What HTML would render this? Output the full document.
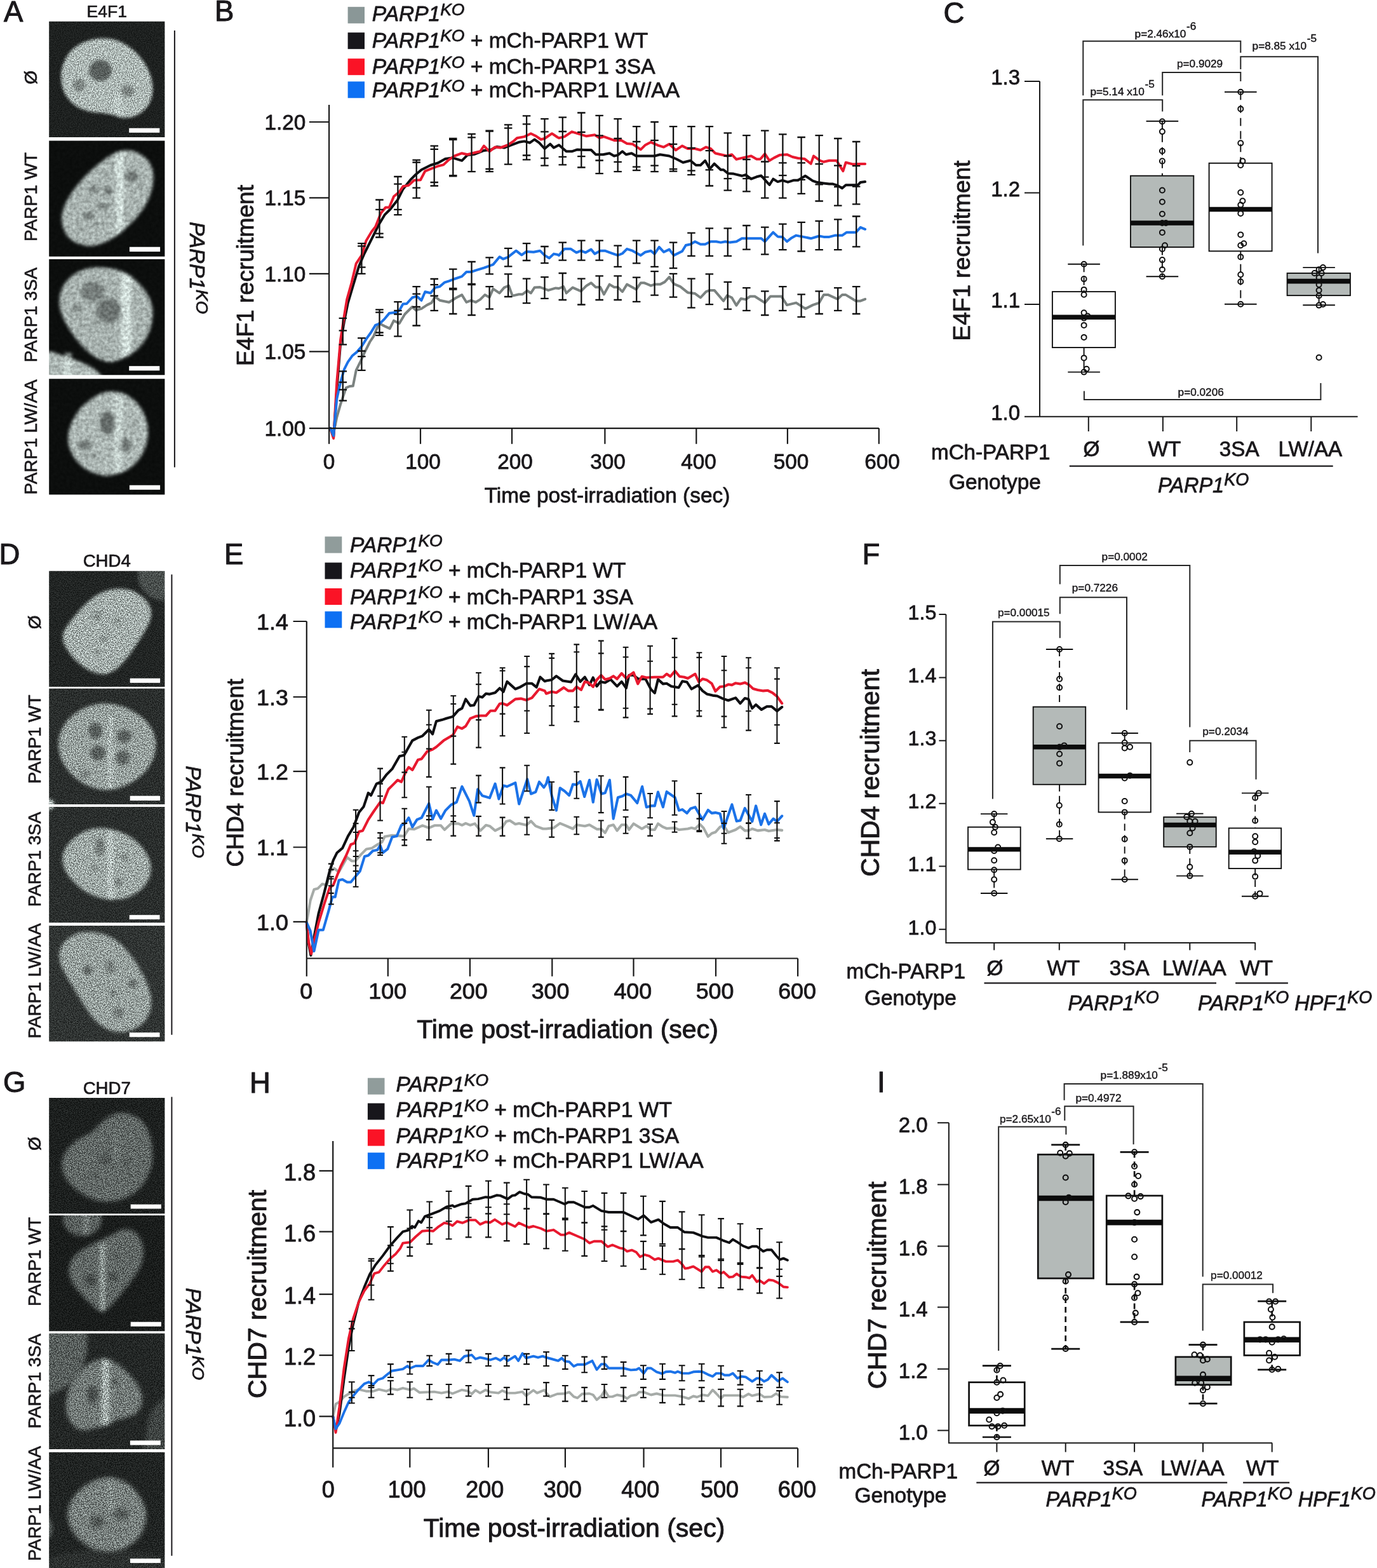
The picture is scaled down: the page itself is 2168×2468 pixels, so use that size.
<!DOCTYPE html>
<html lang="en"><head><meta charset="utf-8"><title>Figure</title>
<style>html,body{margin:0;padding:0;background:#fff}svg{display:block}text{font-family:'Liberation Sans', sans-serif;fill:#1a181b;stroke:#1a181b;stroke-linejoin:round}</style>
</head><body>
<svg width="2168" height="2468" viewBox="0 0 2168 2468">
<defs><clipPath id="c0"><rect x="77.2" y="33.7" width="182.2" height="182.2"/></clipPath>
<clipPath id="n0"><path d="M163.1 60.3C169.7 60.5 177 61.4 183.4 63.4C189.8 65.4 195.7 68.5 201.6 72.5C207.6 76.6 213.8 82 218.9 87.7C223.9 93.5 228.7 100.4 232 107C235.4 113.6 237.8 120.8 239.1 127.2C240.5 133.6 240.8 139.6 240.2 145.5C239.5 151.4 237.8 157.6 235.1 162.7C232.4 167.8 228.3 172.3 223.9 175.9C219.5 179.4 214.1 182.5 208.7 184C203.3 185.5 196.6 185.5 191.5 185C186.4 184.5 183.1 182.1 178.3 180.9C173.6 179.8 169 178.7 163.1 177.9C157.2 177.1 149.6 177.4 142.9 175.9C136.1 174.4 128.5 172.2 122.6 168.8C116.7 165.4 111.5 160.8 107.4 155.6C103.3 150.4 100.1 143.8 98.3 137.4C96.4 130.9 95.9 123.5 96.3 117.1C96.6 110.7 97.9 104.8 100.3 98.9C102.7 92.9 106.2 86.5 110.4 81.6C114.7 76.7 120.1 72.7 125.6 69.5C131.2 66.3 137.6 63.9 143.9 62.4C150.1 60.9 156.6 60.2 163.1 60.3Z"/></clipPath>
<filter id="f0" filterUnits="userSpaceOnUse" x="63.2" y="19.7" width="210.2" height="210.2" color-interpolation-filters="sRGB"><feGaussianBlur in="SourceGraphic" stdDeviation="2.3" result="b"/><feTurbulence type="fractalNoise" baseFrequency="0.6" numOctaves="2" seed="3" result="t"/><feGaussianBlur in="t" stdDeviation="0.6" result="t2"/><feColorMatrix in="t2" type="matrix" values="1.7 0 0 0 -0.35 1.7 0 0 0 -0.35 1.7 0 0 0 -0.35 0 0 0 0 1" result="n"/><feComposite in="b" in2="n" operator="arithmetic" k1="1" k2="0.5" k3="0.03" k4="0" result="m"/><feColorMatrix in="m" type="matrix" values="0.965 0 0 0 0 0 1.015 0 0 0.006 0 0 1 0 0.004 0 0 0 1 0"/></filter>
<clipPath id="c1"><rect x="77.2" y="221.5" width="182.2" height="182.2"/></clipPath>
<clipPath id="n1"><path d="M196.6 236.7C202.5 236.2 208.4 237.3 213.8 239.2C219.2 241.2 225 244.6 229 248.4C233.1 252.1 236 256.6 238.1 261.5C240.2 266.4 241.5 271.8 241.7 277.7C241.8 283.7 240.7 290.4 239.1 297C237.5 303.6 235.4 310.5 232 317.3C228.7 324 223.9 331.1 218.9 337.5C213.8 344 207.6 350.2 201.6 355.8C195.7 361.4 189.8 366.6 183.4 371C177 375.4 169.9 379.4 163.1 382.1C156.4 384.8 149.6 387 142.9 387.2C136.1 387.4 128.5 385.5 122.6 383.1C116.7 380.8 111.3 377.2 107.4 373C103.5 368.8 101 363.2 99.3 357.8C97.6 352.4 96.8 346.5 97.3 340.6C97.8 334.7 99.8 328.4 102.3 322.3C104.9 316.3 108.6 310 112.5 304.1C116.4 298.2 120.7 292.6 125.6 286.9C130.5 281.1 136.1 275 141.9 269.6C147.6 264.2 154 259 160.1 254.4C166.2 249.9 172.3 245.2 178.3 242.3C184.4 239.3 190.7 237.2 196.6 236.7Z"/></clipPath>
<filter id="f1" filterUnits="userSpaceOnUse" x="63.2" y="207.5" width="210.2" height="210.2" color-interpolation-filters="sRGB"><feGaussianBlur in="SourceGraphic" stdDeviation="2.4" result="b"/><feTurbulence type="fractalNoise" baseFrequency="0.2" numOctaves="2" seed="4" result="t"/><feGaussianBlur in="t" stdDeviation="0.6" result="t2"/><feColorMatrix in="t2" type="matrix" values="0.6 0 0 0 0.20 0.6 0 0 0 0.20 0.6 0 0 0 0.20 0 0 0 0 1" result="n"/><feComposite in="b" in2="n" operator="arithmetic" k1="1" k2="0.5" k3="0.03" k4="0" result="m"/><feColorMatrix in="m" type="matrix" values="0.965 0 0 0 0 0 1.015 0 0 0.006 0 0 1 0 0.004 0 0 0 1 0"/></filter>
<clipPath id="c2"><rect x="77.2" y="408" width="182.2" height="182.2"/></clipPath>
<clipPath id="n2"><path d="M163.1 421.2C169 421.7 176.6 422.2 183.4 424.2C190.2 426.2 197.4 429.3 203.7 433.3C209.9 437.4 215.8 443 220.9 448.5C226 454.1 230.9 460.4 234.1 466.8C237.3 473.2 239.3 480.3 240.2 487C241 493.8 240.3 500.7 239.1 507.3C238 513.9 235.9 520.5 233.1 526.6C230.2 532.6 226.3 538.7 221.9 543.8C217.5 548.9 212.3 553.3 206.7 557C201.1 560.7 194 563.9 188.5 566.1C182.9 568.3 178.3 570.1 173.3 570.1C168.2 570.1 163.1 568.3 158.1 566.1C153 563.9 147.9 560.9 142.9 557C137.8 553.1 132.6 548.2 127.7 542.8C122.8 537.4 117.9 531 113.5 524.5C109.1 518.1 104.5 511 101.3 504.3C98.1 497.5 95.4 490.6 94.2 484C93 477.4 93 470.8 94.2 464.7C95.4 458.7 97.9 452.8 101.3 447.5C104.7 442.3 109.4 437.2 114.5 433.3C119.6 429.4 126.1 426.2 131.7 424.2C137.3 422.2 142.7 421.7 147.9 421.2C153.2 420.7 157.2 420.7 163.1 421.2Z"/></clipPath>
<filter id="f2" filterUnits="userSpaceOnUse" x="63.2" y="394" width="210.2" height="210.2" color-interpolation-filters="sRGB"><feGaussianBlur in="SourceGraphic" stdDeviation="2.4" result="b"/><feTurbulence type="fractalNoise" baseFrequency="0.2" numOctaves="2" seed="5" result="t"/><feGaussianBlur in="t" stdDeviation="0.6" result="t2"/><feColorMatrix in="t2" type="matrix" values="0.6 0 0 0 0.20 0.6 0 0 0 0.20 0.6 0 0 0 0.20 0 0 0 0 1" result="n"/><feComposite in="b" in2="n" operator="arithmetic" k1="1" k2="0.5" k3="0.03" k4="0" result="m"/><feColorMatrix in="m" type="matrix" values="0.965 0 0 0 0 0 1.015 0 0 0.006 0 0 1 0 0.004 0 0 0 1 0"/></filter>
<clipPath id="c3"><rect x="77.2" y="596.2" width="182.2" height="182.2"/></clipPath>
<clipPath id="n3"><path d="M178.3 616.3C184.1 616.6 191 618 196.6 620.3C202.2 622.7 207.2 626.2 211.8 630.5C216.3 634.7 220.7 640.1 223.9 645.7C227.1 651.2 229.5 657.8 231 663.9C232.6 670 233.2 676.1 233.1 682.1C232.9 688.2 231.7 694.6 230 700.4C228.3 706.1 226.1 711.4 222.9 716.6C219.7 721.8 215.3 727.6 210.8 731.8C206.2 736 201 739.4 195.6 741.9C190.2 744.5 182.9 745.8 178.3 747C173.8 748.2 172.4 749.2 168.2 749C164 748.9 158.1 747.5 153 746C147.9 744.5 142.5 742.6 137.8 739.9C133.1 737.2 128.5 733.7 124.6 729.8C120.7 725.9 117.2 721.3 114.5 716.6C111.8 711.9 109.6 706.6 108.4 701.4C107.2 696.2 106.9 690.6 107.4 685.2C107.9 679.8 109.4 674.4 111.5 669C113.5 663.6 116.4 657.8 119.6 652.7C122.8 647.7 126.3 643 130.7 638.6C135.1 634.2 140.7 629.8 145.9 626.4C151.1 623 156.7 620 162.1 618.3C167.5 616.6 172.6 615.9 178.3 616.3Z"/></clipPath>
<filter id="f3" filterUnits="userSpaceOnUse" x="63.2" y="582.2" width="210.2" height="210.2" color-interpolation-filters="sRGB"><feGaussianBlur in="SourceGraphic" stdDeviation="2.4" result="b"/><feTurbulence type="fractalNoise" baseFrequency="0.2" numOctaves="2" seed="6" result="t"/><feGaussianBlur in="t" stdDeviation="0.6" result="t2"/><feColorMatrix in="t2" type="matrix" values="0.6 0 0 0 0.20 0.6 0 0 0 0.20 0.6 0 0 0 0.20 0 0 0 0 1" result="n"/><feComposite in="b" in2="n" operator="arithmetic" k1="1" k2="0.5" k3="0.03" k4="0" result="m"/><feColorMatrix in="m" type="matrix" values="0.965 0 0 0 0 0 1.015 0 0 0.006 0 0 1 0 0.004 0 0 0 1 0"/></filter>
<clipPath id="c4"><rect x="77.2" y="898.7" width="182.2" height="182.2"/></clipPath>
<clipPath id="n4"><path d="M188.5 926.4C194.9 926.4 201 927.4 206.7 929.4C212.5 931.4 218.4 935 222.9 938.5C227.5 942.1 231.5 946.3 234.1 950.7C236.6 955.1 238 960 238.1 964.9C238.3 969.8 236.9 975 235.1 980.1C233.2 985.1 230 990 227 995.3C223.9 1000.5 220.4 1006.1 216.8 1011.5C213.3 1016.9 209.6 1022.5 205.7 1027.7C201.8 1032.9 197.8 1038.3 193.5 1042.9C189.3 1047.5 185.1 1052 180.4 1055.1C175.6 1058.1 170.2 1060.5 165.2 1061.1C160.1 1061.8 155.2 1060.8 150 1059.1C144.7 1057.4 139 1054.4 133.7 1051C128.5 1047.6 123.1 1043.4 118.5 1038.8C114 1034.3 109.6 1028.7 106.4 1023.6C103.2 1018.6 100.3 1013.2 99.3 1008.4C98.3 1003.7 98.8 999.8 100.3 995.3C101.8 990.7 105 986 108.4 981.1C111.8 976.2 116.2 970.9 120.6 965.9C125 960.8 129.7 955.4 134.8 950.7C139.8 946 145.4 941.1 151 937.5C156.6 934 162 931.3 168.2 929.4C174.5 927.5 182.1 926.4 188.5 926.4Z"/></clipPath>
<filter id="f4" filterUnits="userSpaceOnUse" x="63.2" y="884.7" width="210.2" height="210.2" color-interpolation-filters="sRGB"><feGaussianBlur in="SourceGraphic" stdDeviation="2.8" result="b"/><feTurbulence type="fractalNoise" baseFrequency="0.65" numOctaves="2" seed="7" result="t"/><feGaussianBlur in="t" stdDeviation="0.6" result="t2"/><feColorMatrix in="t2" type="matrix" values="2.7 0 0 0 -0.85 2.7 0 0 0 -0.85 2.7 0 0 0 -0.85 0 0 0 0 1" result="n"/><feComposite in="b" in2="n" operator="arithmetic" k1="1" k2="0.5" k3="0.03" k4="0" result="m"/><feColorMatrix in="m" type="matrix" values="0.965 0 0 0 0 0 1.015 0 0 0.006 0 0 1 0 0.004 0 0 0 1 0"/></filter>
<clipPath id="c5"><rect x="77.2" y="1083.7" width="182.2" height="182.2"/></clipPath>
<clipPath id="n5"><path d="M163.1 1107.3C169.7 1107.1 176.6 1107.8 183.4 1109.3C190.2 1110.9 197.3 1113.4 203.7 1116.4C210.1 1119.5 216.5 1123.2 221.9 1127.6C227.3 1132 232.4 1137.2 236.1 1142.8C239.8 1148.3 242.7 1154.9 244.2 1161C245.7 1167.1 245.9 1173.3 245.2 1179.3C244.5 1185.2 242.7 1190.9 240.2 1196.5C237.6 1202.1 234.1 1207.8 230 1212.7C226 1217.6 221.1 1222 215.8 1225.9C210.6 1229.8 204.5 1233.3 198.6 1236C192.7 1238.7 186.4 1240.9 180.4 1242.1C174.3 1243.3 168.2 1243.6 162.1 1243.1C156 1242.6 149.6 1241.1 143.9 1239C138.1 1237 132.9 1234.3 127.7 1230.9C122.4 1227.6 117 1223.5 112.5 1218.8C107.9 1214 103.5 1208.3 100.3 1202.6C97.1 1196.8 94.6 1190.4 93.2 1184.3C91.9 1178.2 91.5 1172.2 92.2 1166.1C92.9 1160 94.6 1153.6 97.3 1147.8C100 1142.1 103.9 1136.5 108.4 1131.6C113 1126.7 118.7 1122 124.6 1118.5C130.5 1114.9 137.5 1112.2 143.9 1110.3C150.3 1108.5 156.6 1107.5 163.1 1107.3Z"/></clipPath>
<filter id="f5" filterUnits="userSpaceOnUse" x="63.2" y="1069.7" width="210.2" height="210.2" color-interpolation-filters="sRGB"><feGaussianBlur in="SourceGraphic" stdDeviation="2.8" result="b"/><feTurbulence type="fractalNoise" baseFrequency="0.65" numOctaves="2" seed="8" result="t"/><feGaussianBlur in="t" stdDeviation="0.6" result="t2"/><feColorMatrix in="t2" type="matrix" values="2.7 0 0 0 -0.85 2.7 0 0 0 -0.85 2.7 0 0 0 -0.85 0 0 0 0 1" result="n"/><feComposite in="b" in2="n" operator="arithmetic" k1="1" k2="0.5" k3="0.03" k4="0" result="m"/><feColorMatrix in="m" type="matrix" values="0.965 0 0 0 0 0 1.015 0 0 0.006 0 0 1 0 0.004 0 0 0 1 0"/></filter>
<clipPath id="c6"><rect x="77.2" y="1270" width="182.2" height="182.2"/></clipPath>
<clipPath id="n6"><path d="M156 1303.4C162 1303.4 169.6 1303.9 176.3 1305.5C183.1 1307 190.3 1309.5 196.6 1312.6C202.8 1315.6 208.6 1319.3 213.8 1323.7C219 1328.1 224.3 1333.5 228 1338.9C231.7 1344.3 234.6 1350.4 236.1 1356.1C237.6 1361.9 238 1367.8 237.1 1373.4C236.3 1378.9 234.1 1384.7 231 1389.6C228 1394.5 223.6 1399 218.9 1402.8C214.1 1406.5 208.4 1409.7 202.7 1411.9C196.9 1414.1 190.5 1415.4 184.4 1415.9C178.3 1416.4 172.3 1415.9 166.2 1414.9C160.1 1413.9 153.8 1412.2 147.9 1409.8C142 1407.5 136.1 1404.4 130.7 1400.7C125.3 1397 120.1 1392.4 115.5 1387.6C110.9 1382.7 106.2 1376.9 103.3 1371.3C100.5 1365.8 98.6 1359.7 98.3 1354.1C97.9 1348.5 99.1 1343 101.3 1337.9C103.5 1332.8 107.4 1327.9 111.5 1323.7C115.5 1319.5 120.7 1315.6 125.6 1312.6C130.5 1309.5 135.8 1307 140.8 1305.5C145.9 1303.9 150.1 1303.4 156 1303.4Z"/></clipPath>
<filter id="f6" filterUnits="userSpaceOnUse" x="63.2" y="1256" width="210.2" height="210.2" color-interpolation-filters="sRGB"><feGaussianBlur in="SourceGraphic" stdDeviation="2.8" result="b"/><feTurbulence type="fractalNoise" baseFrequency="0.65" numOctaves="2" seed="9" result="t"/><feGaussianBlur in="t" stdDeviation="0.6" result="t2"/><feColorMatrix in="t2" type="matrix" values="2.7 0 0 0 -0.85 2.7 0 0 0 -0.85 2.7 0 0 0 -0.85 0 0 0 0 1" result="n"/><feComposite in="b" in2="n" operator="arithmetic" k1="1" k2="0.5" k3="0.03" k4="0" result="m"/><feColorMatrix in="m" type="matrix" values="0.965 0 0 0 0 0 1.015 0 0 0.006 0 0 1 0 0.004 0 0 0 1 0"/></filter>
<clipPath id="c7"><rect x="77.2" y="1457" width="182.2" height="182.2"/></clipPath>
<clipPath id="n7"><path d="M142.9 1467.1C149.1 1467.5 156.7 1468.1 163.1 1470.2C169.6 1472.2 175.6 1475.4 181.4 1479.3C187.1 1483.2 192.5 1488.1 197.6 1493.5C202.7 1498.9 207.4 1505.3 211.8 1511.7C216.2 1518.1 220.4 1525.2 223.9 1532C227.5 1538.7 230.7 1545.5 233.1 1552.3C235.4 1559 237.6 1565.9 238.1 1572.5C238.6 1579.1 238 1585.9 236.1 1591.8C234.2 1597.7 230.9 1603.4 227 1608C223.1 1612.6 218 1616.4 212.8 1619.1C207.6 1621.8 201.3 1623.5 195.6 1624.2C189.8 1624.9 183.9 1624.5 178.3 1623.2C172.8 1621.8 167.2 1619.3 162.1 1616.1C157.1 1612.9 152.3 1608.7 147.9 1603.9C143.5 1599.2 139.7 1593.5 135.8 1587.7C131.9 1582 128.3 1575.6 124.6 1569.5C120.9 1563.4 117 1557.2 113.5 1551.2C109.9 1545.3 106.4 1539.8 103.3 1534C100.3 1528.3 96.9 1522.4 95.2 1516.8C93.6 1511.2 92.7 1505.6 93.2 1500.6C93.7 1495.5 95.6 1490.6 98.3 1486.4C101 1482.2 104.9 1478.3 109.4 1475.2C114 1472.2 120.1 1469.5 125.6 1468.1C131.2 1466.8 136.6 1466.8 142.9 1467.1Z"/></clipPath>
<filter id="f7" filterUnits="userSpaceOnUse" x="63.2" y="1443" width="210.2" height="210.2" color-interpolation-filters="sRGB"><feGaussianBlur in="SourceGraphic" stdDeviation="2.8" result="b"/><feTurbulence type="fractalNoise" baseFrequency="0.65" numOctaves="2" seed="10" result="t"/><feGaussianBlur in="t" stdDeviation="0.6" result="t2"/><feColorMatrix in="t2" type="matrix" values="2.7 0 0 0 -0.85 2.7 0 0 0 -0.85 2.7 0 0 0 -0.85 0 0 0 0 1" result="n"/><feComposite in="b" in2="n" operator="arithmetic" k1="1" k2="0.5" k3="0.03" k4="0" result="m"/><feColorMatrix in="m" type="matrix" values="0.965 0 0 0 0 0 1.015 0 0 0.006 0 0 1 0 0.004 0 0 0 1 0"/></filter>
<clipPath id="c8"><rect x="77.2" y="1728.1" width="182.2" height="182.2"/></clipPath>
<clipPath id="n8"><path d="M198.6 1752.3C203.5 1753.2 209.1 1754.7 213.8 1757.4C218.5 1760.1 223.4 1764 227 1768.5C230.5 1773.1 233.1 1779 235.1 1784.7C237.1 1790.5 238.3 1796.9 239.1 1803C240 1809.1 240.5 1815.2 240.2 1821.2C239.8 1827.3 239 1833.4 237.1 1839.5C235.3 1845.6 232.4 1852.1 229 1857.7C225.6 1863.3 221.6 1868.5 216.8 1872.9C212.1 1877.3 206.4 1881.2 200.6 1884.1C194.9 1886.9 188.5 1889 182.4 1890.1C176.3 1891.3 170.2 1891.7 164.2 1891.2C158.1 1890.6 152 1889.3 145.9 1887.1C139.8 1884.9 133.2 1881.5 127.7 1878C122.1 1874.4 116.9 1870.4 112.5 1865.8C108.1 1861.3 103.9 1855.9 101.3 1850.6C98.8 1845.4 97.4 1839.6 97.3 1834.4C97.1 1829.2 98.4 1823.9 100.3 1819.2C102.2 1814.5 105 1810.1 108.4 1806C111.8 1802 116 1798.1 120.6 1794.9C125.1 1791.7 131.2 1789.5 135.8 1786.8C140.3 1784.1 144.2 1781.7 147.9 1778.7C151.7 1775.6 154.4 1771.9 158.1 1768.5C161.8 1765.2 165.8 1761.1 170.2 1758.4C174.6 1755.7 179.7 1753.3 184.4 1752.3C189.1 1751.3 193.7 1751.5 198.6 1752.3Z"/></clipPath>
<filter id="f8" filterUnits="userSpaceOnUse" x="63.2" y="1714.1" width="210.2" height="210.2" color-interpolation-filters="sRGB"><feGaussianBlur in="SourceGraphic" stdDeviation="3.2" result="b"/><feTurbulence type="fractalNoise" baseFrequency="0.65" numOctaves="2" seed="11" result="t"/><feGaussianBlur in="t" stdDeviation="0.6" result="t2"/><feColorMatrix in="t2" type="matrix" values="3.6 0 0 0 -1.30 3.6 0 0 0 -1.30 3.6 0 0 0 -1.30 0 0 0 0 1" result="n"/><feComposite in="b" in2="n" operator="arithmetic" k1="1" k2="0.5" k3="0.03" k4="0" result="m"/><feColorMatrix in="m" type="matrix" values="0.965 0 0 0 0 0 1.015 0 0 0.006 0 0 1 0 0.004 0 0 0 1 0"/></filter>
<clipPath id="c9"><rect x="77.2" y="1913" width="182.2" height="182.2"/></clipPath>
<clipPath id="n9"><path d="M203.7 1935.3C208.1 1936.5 213.5 1939.7 216.8 1943.4C220.2 1947.1 222.4 1952.5 223.9 1957.6C225.5 1962.7 226.3 1968.2 226 1973.8C225.6 1979.4 224.1 1985.5 221.9 1991C219.7 1996.6 216.2 2002 212.8 2007.2C209.4 2012.5 205.4 2017.5 201.6 2022.4C197.9 2027.3 194.2 2032.1 190.5 2036.6C186.8 2041.2 183.1 2045.8 179.4 2049.8C175.6 2053.9 171.4 2058.6 168.2 2061C165 2063.3 163.1 2064.3 160.1 2064C157.1 2063.7 153.7 2061.6 150 2058.9C146.2 2056.2 142 2052 137.8 2047.8C133.6 2043.6 128.7 2038.5 124.6 2033.6C120.6 2028.7 116.2 2023.6 113.5 2018.4C110.8 2013.2 108.8 2007.6 108.4 2002.2C108.1 1996.8 109.4 1990.7 111.5 1986C113.5 1981.2 116.9 1977.3 120.6 1973.8C124.3 1970.3 129.2 1967.6 133.7 1964.7C138.3 1961.8 143.2 1958.9 147.9 1956.6C152.7 1954.2 157.4 1952.7 162.1 1950.5C166.9 1948.3 171.6 1945.8 176.3 1943.4C181 1941 185.9 1937.7 190.5 1936.3C195.1 1935 199.3 1934.1 203.7 1935.3Z"/></clipPath>
<filter id="f9" filterUnits="userSpaceOnUse" x="63.2" y="1899" width="210.2" height="210.2" color-interpolation-filters="sRGB"><feGaussianBlur in="SourceGraphic" stdDeviation="3.2" result="b"/><feTurbulence type="fractalNoise" baseFrequency="0.65" numOctaves="2" seed="12" result="t"/><feGaussianBlur in="t" stdDeviation="0.6" result="t2"/><feColorMatrix in="t2" type="matrix" values="3.6 0 0 0 -1.30 3.6 0 0 0 -1.30 3.6 0 0 0 -1.30 0 0 0 0 1" result="n"/><feComposite in="b" in2="n" operator="arithmetic" k1="1" k2="0.5" k3="0.03" k4="0" result="m"/><feColorMatrix in="m" type="matrix" values="0.965 0 0 0 0 0 1.015 0 0 0.006 0 0 1 0 0.004 0 0 0 1 0"/></filter>
<clipPath id="c10"><rect x="77.2" y="2098.7" width="182.2" height="182.2"/></clipPath>
<clipPath id="n10"><path d="M166.2 2138.5C171.4 2139 176.5 2141.7 181.4 2144.6C186.3 2147.5 191 2151.7 195.6 2155.7C200.1 2159.8 204.9 2164.2 208.7 2168.9C212.6 2173.7 216.3 2178.9 218.9 2184.1C221.4 2189.4 223.6 2195.1 223.9 2200.3C224.3 2205.6 223.1 2211.1 220.9 2215.5C218.7 2219.9 214.8 2224 210.8 2226.7C206.7 2229.4 201.1 2230.4 196.6 2231.8C192 2233.1 187.3 2233.3 183.4 2234.8C179.5 2236.3 177 2239.2 173.3 2240.9C169.6 2242.6 165.3 2243.7 161.1 2244.9C156.9 2246.1 152.5 2247 147.9 2248C143.4 2249 138.3 2251 133.7 2251C129.2 2251 124.5 2250.3 120.6 2248C116.7 2245.6 113.1 2241.4 110.4 2236.8C107.7 2232.3 105.4 2226.2 104.4 2220.6C103.3 2215 103.7 2209 104.4 2203.4C105 2197.8 106.6 2192.2 108.4 2187.2C110.3 2182.1 112.8 2177.4 115.5 2173C118.2 2168.6 121.3 2164.7 124.6 2160.8C128 2156.9 131.6 2152.9 135.8 2149.7C140 2146.5 144.9 2143.4 150 2141.6C155 2139.7 160.9 2138 166.2 2138.5Z"/></clipPath>
<filter id="f10" filterUnits="userSpaceOnUse" x="63.2" y="2084.7" width="210.2" height="210.2" color-interpolation-filters="sRGB"><feGaussianBlur in="SourceGraphic" stdDeviation="3.2" result="b"/><feTurbulence type="fractalNoise" baseFrequency="0.65" numOctaves="2" seed="13" result="t"/><feGaussianBlur in="t" stdDeviation="0.6" result="t2"/><feColorMatrix in="t2" type="matrix" values="3.6 0 0 0 -1.30 3.6 0 0 0 -1.30 3.6 0 0 0 -1.30 0 0 0 0 1" result="n"/><feComposite in="b" in2="n" operator="arithmetic" k1="1" k2="0.5" k3="0.03" k4="0" result="m"/><feColorMatrix in="m" type="matrix" values="0.965 0 0 0 0 0 1.015 0 0 0.006 0 0 1 0 0.004 0 0 0 1 0"/></filter>
<clipPath id="c11"><rect x="77.2" y="2285.7" width="182.2" height="182.2"/></clipPath>
<clipPath id="n11"><path d="M173.3 2325.5C178.2 2326 184.9 2327.2 190.5 2329.6C196.1 2331.9 201.8 2335.5 206.7 2339.7C211.6 2343.9 216.3 2349.5 219.9 2354.9C223.4 2360.3 226.3 2366.4 228 2372.1C229.7 2377.9 230.4 2383.6 230 2389.4C229.7 2395.1 228.2 2401.2 226 2406.6C223.8 2412 220.7 2417.4 216.8 2421.8C213 2426.2 207.7 2429.9 202.7 2432.9C197.6 2436 192.2 2438.5 186.4 2440C180.7 2441.6 174.1 2442.2 168.2 2442.1C162.3 2441.9 156.6 2440.9 151 2439C145.4 2437.2 139.8 2434.3 134.8 2430.9C129.7 2427.5 124.6 2423.5 120.6 2418.8C116.5 2414 112.8 2408.1 110.4 2402.5C108.1 2397 106.6 2391.1 106.4 2385.3C106.2 2379.6 107.4 2373.5 109.4 2368.1C111.5 2362.7 114.8 2357.6 118.5 2352.9C122.3 2348.2 126.8 2343.4 131.7 2339.7C136.6 2336 143 2332.8 147.9 2330.6C152.8 2328.4 156.9 2327.4 161.1 2326.5C165.3 2325.7 168.4 2325 173.3 2325.5Z"/></clipPath>
<filter id="f11" filterUnits="userSpaceOnUse" x="63.2" y="2271.7" width="210.2" height="210.2" color-interpolation-filters="sRGB"><feGaussianBlur in="SourceGraphic" stdDeviation="3.2" result="b"/><feTurbulence type="fractalNoise" baseFrequency="0.65" numOctaves="2" seed="14" result="t"/><feGaussianBlur in="t" stdDeviation="0.6" result="t2"/><feColorMatrix in="t2" type="matrix" values="3.6 0 0 0 -1.30 3.6 0 0 0 -1.30 3.6 0 0 0 -1.30 0 0 0 0 1" result="n"/><feComposite in="b" in2="n" operator="arithmetic" k1="1" k2="0.5" k3="0.03" k4="0" result="m"/><feColorMatrix in="m" type="matrix" values="0.965 0 0 0 0 0 1.015 0 0 0.006 0 0 1 0 0.004 0 0 0 1 0"/></filter></defs>
<g clip-path="url(#c0)"><g filter="url(#f0)"><rect x="63.2" y="19.7" width="210.2" height="210.2" fill="#1b1b1b"/><path d="M163.1 60.3C169.7 60.5 177 61.4 183.4 63.4C189.8 65.4 195.7 68.5 201.6 72.5C207.6 76.6 213.8 82 218.9 87.7C223.9 93.5 228.7 100.4 232 107C235.4 113.6 237.8 120.8 239.1 127.2C240.5 133.6 240.8 139.6 240.2 145.5C239.5 151.4 237.8 157.6 235.1 162.7C232.4 167.8 228.3 172.3 223.9 175.9C219.5 179.4 214.1 182.5 208.7 184C203.3 185.5 196.6 185.5 191.5 185C186.4 184.5 183.1 182.1 178.3 180.9C173.6 179.8 169 178.7 163.1 177.9C157.2 177.1 149.6 177.4 142.9 175.9C136.1 174.4 128.5 172.2 122.6 168.8C116.7 165.4 111.5 160.8 107.4 155.6C103.3 150.4 100.1 143.8 98.3 137.4C96.4 130.9 95.9 123.5 96.3 117.1C96.6 110.7 97.9 104.8 100.3 98.9C102.7 92.9 106.2 86.5 110.4 81.6C114.7 76.7 120.1 72.7 125.6 69.5C131.2 66.3 137.6 63.9 143.9 62.4C150.1 60.9 156.6 60.2 163.1 60.3Z" fill="#b0b0b0"/><g clip-path="url(#n0)"><ellipse cx="158.1" cy="111" rx="17.7" ry="16.7" fill="#585858"/><ellipse cx="124.6" cy="134.3" rx="9.6" ry="10.6" fill="#7d7d7d"/><ellipse cx="200.6" cy="143.4" rx="10.6" ry="9.6" fill="#7d7d7d"/><rect x="179.9" y="145.5" width="13.2" height="40.5" fill="#d7d7d7" opacity="0.4"/></g></g></g><rect x="203.2" y="201.7" width="48.1" height="7.1" fill="#fff"/>
<g clip-path="url(#c1)"><g filter="url(#f1)"><rect x="63.2" y="207.5" width="210.2" height="210.2" fill="#080808"/><path d="M196.6 236.7C202.5 236.2 208.4 237.3 213.8 239.2C219.2 241.2 225 244.6 229 248.4C233.1 252.1 236 256.6 238.1 261.5C240.2 266.4 241.5 271.8 241.7 277.7C241.8 283.7 240.7 290.4 239.1 297C237.5 303.6 235.4 310.5 232 317.3C228.7 324 223.9 331.1 218.9 337.5C213.8 344 207.6 350.2 201.6 355.8C195.7 361.4 189.8 366.6 183.4 371C177 375.4 169.9 379.4 163.1 382.1C156.4 384.8 149.6 387 142.9 387.2C136.1 387.4 128.5 385.5 122.6 383.1C116.7 380.8 111.3 377.2 107.4 373C103.5 368.8 101 363.2 99.3 357.8C97.6 352.4 96.8 346.5 97.3 340.6C97.8 334.7 99.8 328.4 102.3 322.3C104.9 316.3 108.6 310 112.5 304.1C116.4 298.2 120.7 292.6 125.6 286.9C130.5 281.1 136.1 275 141.9 269.6C147.6 264.2 154 259 160.1 254.4C166.2 249.9 172.3 245.2 178.3 242.3C184.4 239.3 190.7 237.2 196.6 236.7Z" fill="#acacac"/><g clip-path="url(#n1)"><ellipse cx="207.7" cy="277.7" rx="10.1" ry="8.6" fill="#6c6c6c"/><ellipse cx="170.2" cy="300" rx="7.6" ry="6.6" fill="#737373"/><ellipse cx="147.9" cy="298" rx="8.1" ry="6.1" fill="#7d7d7d"/><ellipse cx="162.1" cy="324.4" rx="11.7" ry="5.1" fill="#7d7d7d"/><ellipse cx="139.8" cy="339.6" rx="8.6" ry="6.6" fill="#737373"/><ellipse cx="219.9" cy="291.9" rx="4.6" ry="3.5" fill="#8a8a8a"/><ellipse cx="152" cy="352.7" rx="4.6" ry="3.5" fill="#8c8c8c"/><ellipse cx="127.7" cy="358.8" rx="4.6" ry="4.1" fill="#8e8e8e"/><ellipse cx="168.2" cy="273.7" rx="5.1" ry="3.5" fill="#919191"/><ellipse cx="198.6" cy="337.5" rx="5.1" ry="3.5" fill="#919191"/><rect x="182.4" y="236.2" width="12.2" height="136.8" fill="#f0f0f0" opacity="0.6"/></g></g></g><rect x="203.9" y="388.7" width="48.2" height="7.4" fill="#fff"/>
<g clip-path="url(#c2)"><g filter="url(#f2)"><rect x="63.2" y="394" width="210.2" height="210.2" fill="#080808"/><path d="M46.6 560C51.7 548.9 69.4 554.3 77 553.9C84.6 553.5 86.3 555.8 92.2 557.5C98.1 559.2 105.7 561.6 112.5 564.1C119.2 566.5 126.8 569.5 132.7 572.2C138.6 574.9 143.7 577.3 147.9 580.3C152.2 583.2 155.4 586.6 158.1 590C160.8 593.4 163.1 595.4 164.2 600.5C165.2 605.7 183.7 617.4 164.2 620.8C144.6 624.2 66.2 630.9 46.6 620.8C27 610.7 41.5 571.2 46.6 560Z" fill="#afafaf"/><rect x="101.8" y="554.9" width="11.1" height="45.6" fill="#ebebeb" opacity="0.5"/><path d="M163.1 421.2C169 421.7 176.6 422.2 183.4 424.2C190.2 426.2 197.4 429.3 203.7 433.3C209.9 437.4 215.8 443 220.9 448.5C226 454.1 230.9 460.4 234.1 466.8C237.3 473.2 239.3 480.3 240.2 487C241 493.8 240.3 500.7 239.1 507.3C238 513.9 235.9 520.5 233.1 526.6C230.2 532.6 226.3 538.7 221.9 543.8C217.5 548.9 212.3 553.3 206.7 557C201.1 560.7 194 563.9 188.5 566.1C182.9 568.3 178.3 570.1 173.3 570.1C168.2 570.1 163.1 568.3 158.1 566.1C153 563.9 147.9 560.9 142.9 557C137.8 553.1 132.6 548.2 127.7 542.8C122.8 537.4 117.9 531 113.5 524.5C109.1 518.1 104.5 511 101.3 504.3C98.1 497.5 95.4 490.6 94.2 484C93 477.4 93 470.8 94.2 464.7C95.4 458.7 97.9 452.8 101.3 447.5C104.7 442.3 109.4 437.2 114.5 433.3C119.6 429.4 126.1 426.2 131.7 424.2C137.3 422.2 142.7 421.7 147.9 421.2C153.2 420.7 157.2 420.7 163.1 421.2Z" fill="#aaaaaa"/><g clip-path="url(#n2)"><ellipse cx="145.9" cy="458.7" rx="18.7" ry="15.7" fill="#767676"/><ellipse cx="171.2" cy="489.1" rx="19.3" ry="19.8" fill="#6c6c6c"/><ellipse cx="120.6" cy="486" rx="6.9" ry="6.9" fill="#808080"/><ellipse cx="150" cy="509.3" rx="5.1" ry="4.6" fill="#8a8a8a"/><ellipse cx="160.1" cy="549.9" rx="4.1" ry="3.5" fill="#8c8c8c"/><rect x="190.5" y="428.3" width="16.2" height="133.8" fill="#f0f0f0" opacity="0.6"/></g></g></g><rect x="203.2" y="576.2" width="48.1" height="7.1" fill="#fff"/>
<g clip-path="url(#c3)"><g filter="url(#f3)"><rect x="63.2" y="582.2" width="210.2" height="210.2" fill="#080808"/><path d="M178.3 616.3C184.1 616.6 191 618 196.6 620.3C202.2 622.7 207.2 626.2 211.8 630.5C216.3 634.7 220.7 640.1 223.9 645.7C227.1 651.2 229.5 657.8 231 663.9C232.6 670 233.2 676.1 233.1 682.1C232.9 688.2 231.7 694.6 230 700.4C228.3 706.1 226.1 711.4 222.9 716.6C219.7 721.8 215.3 727.6 210.8 731.8C206.2 736 201 739.4 195.6 741.9C190.2 744.5 182.9 745.8 178.3 747C173.8 748.2 172.4 749.2 168.2 749C164 748.9 158.1 747.5 153 746C147.9 744.5 142.5 742.6 137.8 739.9C133.1 737.2 128.5 733.7 124.6 729.8C120.7 725.9 117.2 721.3 114.5 716.6C111.8 711.9 109.6 706.6 108.4 701.4C107.2 696.2 106.9 690.6 107.4 685.2C107.9 679.8 109.4 674.4 111.5 669C113.5 663.6 116.4 657.8 119.6 652.7C122.8 647.7 126.3 643 130.7 638.6C135.1 634.2 140.7 629.8 145.9 626.4C151.1 623 156.7 620 162.1 618.3C167.5 616.6 172.6 615.9 178.3 616.3Z" fill="#afafaf"/><g clip-path="url(#n3)"><ellipse cx="169.2" cy="665.9" rx="12.2" ry="18.2" fill="#646464"/><ellipse cx="133.7" cy="700.4" rx="10.6" ry="7.3" fill="#6c6c6c"/><ellipse cx="196.6" cy="700.4" rx="10.1" ry="11.3" fill="#6e6e6e"/><ellipse cx="147.9" cy="717.6" rx="4.9" ry="4.6" fill="#828282"/><ellipse cx="210.8" cy="666.9" rx="4.3" ry="4.1" fill="#8c8c8c"/><ellipse cx="133.7" cy="716.6" rx="4.1" ry="3" fill="#8c8c8c"/><rect x="180.4" y="619.3" width="12.2" height="127.7" fill="#e8e8e8" opacity="0.5"/></g></g></g><rect x="203.9" y="763.7" width="48.2" height="7.1" fill="#fff"/>
<g clip-path="url(#c4)"><g filter="url(#f4)"><rect x="63.2" y="884.7" width="210.2" height="210.2" fill="#1f1f1f"/><ellipse cx="259.4" cy="905.1" rx="42.6" ry="40.5" fill="#484848"/><path d="M188.5 926.4C194.9 926.4 201 927.4 206.7 929.4C212.5 931.4 218.4 935 222.9 938.5C227.5 942.1 231.5 946.3 234.1 950.7C236.6 955.1 238 960 238.1 964.9C238.3 969.8 236.9 975 235.1 980.1C233.2 985.1 230 990 227 995.3C223.9 1000.5 220.4 1006.1 216.8 1011.5C213.3 1016.9 209.6 1022.5 205.7 1027.7C201.8 1032.9 197.8 1038.3 193.5 1042.9C189.3 1047.5 185.1 1052 180.4 1055.1C175.6 1058.1 170.2 1060.5 165.2 1061.1C160.1 1061.8 155.2 1060.8 150 1059.1C144.7 1057.4 139 1054.4 133.7 1051C128.5 1047.6 123.1 1043.4 118.5 1038.8C114 1034.3 109.6 1028.7 106.4 1023.6C103.2 1018.6 100.3 1013.2 99.3 1008.4C98.3 1003.7 98.8 999.8 100.3 995.3C101.8 990.7 105 986 108.4 981.1C111.8 976.2 116.2 970.9 120.6 965.9C125 960.8 129.7 955.4 134.8 950.7C139.8 946 145.4 941.1 151 937.5C156.6 934 162 931.3 168.2 929.4C174.5 927.5 182.1 926.4 188.5 926.4Z" fill="#a5a5a5"/><g clip-path="url(#n4)"><ellipse cx="153" cy="969.9" rx="7.6" ry="7.1" fill="#878787"/><ellipse cx="183.4" cy="978" rx="5.6" ry="5.6" fill="#8a8a8a"/><ellipse cx="163.1" cy="1005.4" rx="6.6" ry="6.6" fill="#8a8a8a"/><ellipse cx="154" cy="1025.7" rx="6.1" ry="5.1" fill="#8c8c8c"/></g></g></g><rect x="204.7" y="1067.7" width="47.4" height="7.1" fill="#fff"/>
<g clip-path="url(#c5)"><g filter="url(#f5)"><rect x="63.2" y="1069.7" width="210.2" height="210.2" fill="#282828"/><ellipse cx="78" cy="1265.4" rx="7.1" ry="7.1" fill="#d2d2d2"/><path d="M163.1 1107.3C169.7 1107.1 176.6 1107.8 183.4 1109.3C190.2 1110.9 197.3 1113.4 203.7 1116.4C210.1 1119.5 216.5 1123.2 221.9 1127.6C227.3 1132 232.4 1137.2 236.1 1142.8C239.8 1148.3 242.7 1154.9 244.2 1161C245.7 1167.1 245.9 1173.3 245.2 1179.3C244.5 1185.2 242.7 1190.9 240.2 1196.5C237.6 1202.1 234.1 1207.8 230 1212.7C226 1217.6 221.1 1222 215.8 1225.9C210.6 1229.8 204.5 1233.3 198.6 1236C192.7 1238.7 186.4 1240.9 180.4 1242.1C174.3 1243.3 168.2 1243.6 162.1 1243.1C156 1242.6 149.6 1241.1 143.9 1239C138.1 1237 132.9 1234.3 127.7 1230.9C122.4 1227.6 117 1223.5 112.5 1218.8C107.9 1214 103.5 1208.3 100.3 1202.6C97.1 1196.8 94.6 1190.4 93.2 1184.3C91.9 1178.2 91.5 1172.2 92.2 1166.1C92.9 1160 94.6 1153.6 97.3 1147.8C100 1142.1 103.9 1136.5 108.4 1131.6C113 1126.7 118.7 1122 124.6 1118.5C130.5 1114.9 137.5 1112.2 143.9 1110.3C150.3 1108.5 156.6 1107.5 163.1 1107.3Z" fill="#989898"/><g clip-path="url(#n5)"><ellipse cx="150" cy="1149.9" rx="10.6" ry="12.7" fill="#555555"/><ellipse cx="195.6" cy="1159" rx="11.7" ry="10.6" fill="#585858"/><ellipse cx="154" cy="1185.3" rx="11.7" ry="11.7" fill="#555555"/><ellipse cx="193.5" cy="1192.4" rx="10.6" ry="11.7" fill="#5c5c5c"/><ellipse cx="133.7" cy="1218.8" rx="8.1" ry="6.1" fill="#787878"/><rect x="170.7" y="1126.6" width="6.1" height="114.5" fill="#e1e1e1" opacity="0.5"/></g></g></g><rect x="204.7" y="1252.7" width="47.4" height="7.4" fill="#fff"/>
<g clip-path="url(#c6)"><g filter="url(#f6)"><rect x="63.2" y="1256" width="210.2" height="210.2" fill="#282828"/><ellipse cx="78" cy="1270" rx="6.1" ry="4.1" fill="#bebebe"/><path d="M156 1303.4C162 1303.4 169.6 1303.9 176.3 1305.5C183.1 1307 190.3 1309.5 196.6 1312.6C202.8 1315.6 208.6 1319.3 213.8 1323.7C219 1328.1 224.3 1333.5 228 1338.9C231.7 1344.3 234.6 1350.4 236.1 1356.1C237.6 1361.9 238 1367.8 237.1 1373.4C236.3 1378.9 234.1 1384.7 231 1389.6C228 1394.5 223.6 1399 218.9 1402.8C214.1 1406.5 208.4 1409.7 202.7 1411.9C196.9 1414.1 190.5 1415.4 184.4 1415.9C178.3 1416.4 172.3 1415.9 166.2 1414.9C160.1 1413.9 153.8 1412.2 147.9 1409.8C142 1407.5 136.1 1404.4 130.7 1400.7C125.3 1397 120.1 1392.4 115.5 1387.6C110.9 1382.7 106.2 1376.9 103.3 1371.3C100.5 1365.8 98.6 1359.7 98.3 1354.1C97.9 1348.5 99.1 1343 101.3 1337.9C103.5 1332.8 107.4 1327.9 111.5 1323.7C115.5 1319.5 120.7 1315.6 125.6 1312.6C130.5 1309.5 135.8 1307 140.8 1305.5C145.9 1303.9 150.1 1303.4 156 1303.4Z" fill="#a0a0a0"/><g clip-path="url(#n6)"><ellipse cx="157.1" cy="1332.8" rx="7.6" ry="13.7" fill="#707070"/><ellipse cx="186.4" cy="1388.6" rx="6.6" ry="6.1" fill="#737373"/><ellipse cx="195.6" cy="1349" rx="5.6" ry="5.6" fill="#7d7d7d"/><ellipse cx="147.9" cy="1366.3" rx="6.1" ry="5.1" fill="#828282"/><rect x="170" y="1308.5" width="7.6" height="107.4" fill="#e1e1e1" opacity="0.55"/></g></g></g><rect x="203.7" y="1440.2" width="47.8" height="6.9" fill="#fff"/>
<g clip-path="url(#c7)"><g filter="url(#f7)"><rect x="63.2" y="1443" width="210.2" height="210.2" fill="#2e2e2e"/><path d="M142.9 1467.1C149.1 1467.5 156.7 1468.1 163.1 1470.2C169.6 1472.2 175.6 1475.4 181.4 1479.3C187.1 1483.2 192.5 1488.1 197.6 1493.5C202.7 1498.9 207.4 1505.3 211.8 1511.7C216.2 1518.1 220.4 1525.2 223.9 1532C227.5 1538.7 230.7 1545.5 233.1 1552.3C235.4 1559 237.6 1565.9 238.1 1572.5C238.6 1579.1 238 1585.9 236.1 1591.8C234.2 1597.7 230.9 1603.4 227 1608C223.1 1612.6 218 1616.4 212.8 1619.1C207.6 1621.8 201.3 1623.5 195.6 1624.2C189.8 1624.9 183.9 1624.5 178.3 1623.2C172.8 1621.8 167.2 1619.3 162.1 1616.1C157.1 1612.9 152.3 1608.7 147.9 1603.9C143.5 1599.2 139.7 1593.5 135.8 1587.7C131.9 1582 128.3 1575.6 124.6 1569.5C120.9 1563.4 117 1557.2 113.5 1551.2C109.9 1545.3 106.4 1539.8 103.3 1534C100.3 1528.3 96.9 1522.4 95.2 1516.8C93.6 1511.2 92.7 1505.6 93.2 1500.6C93.7 1495.5 95.6 1490.6 98.3 1486.4C101 1482.2 104.9 1478.3 109.4 1475.2C114 1472.2 120.1 1469.5 125.6 1468.1C131.2 1466.8 136.6 1466.8 142.9 1467.1Z" fill="#989898"/><g clip-path="url(#n7)"><ellipse cx="137.8" cy="1526.9" rx="7.6" ry="7.1" fill="#5f5f5f"/><ellipse cx="173.3" cy="1521.9" rx="6.6" ry="10.6" fill="#707070"/><ellipse cx="208.7" cy="1548.2" rx="7.6" ry="7.3" fill="#696969"/><ellipse cx="178.3" cy="1563.4" rx="5.6" ry="5.6" fill="#767676"/><ellipse cx="186.4" cy="1593.8" rx="8.6" ry="8.1" fill="#707070"/></g></g></g><rect x="203.7" y="1625.2" width="47.8" height="7.1" fill="#fff"/>
<g clip-path="url(#c8)"><g filter="url(#f8)"><rect x="63.2" y="1714.1" width="210.2" height="210.2" fill="#1a1a1a"/><path d="M198.6 1752.3C203.5 1753.2 209.1 1754.7 213.8 1757.4C218.5 1760.1 223.4 1764 227 1768.5C230.5 1773.1 233.1 1779 235.1 1784.7C237.1 1790.5 238.3 1796.9 239.1 1803C240 1809.1 240.5 1815.2 240.2 1821.2C239.8 1827.3 239 1833.4 237.1 1839.5C235.3 1845.6 232.4 1852.1 229 1857.7C225.6 1863.3 221.6 1868.5 216.8 1872.9C212.1 1877.3 206.4 1881.2 200.6 1884.1C194.9 1886.9 188.5 1889 182.4 1890.1C176.3 1891.3 170.2 1891.7 164.2 1891.2C158.1 1890.6 152 1889.3 145.9 1887.1C139.8 1884.9 133.2 1881.5 127.7 1878C122.1 1874.4 116.9 1870.4 112.5 1865.8C108.1 1861.3 103.9 1855.9 101.3 1850.6C98.8 1845.4 97.4 1839.6 97.3 1834.4C97.1 1829.2 98.4 1823.9 100.3 1819.2C102.2 1814.5 105 1810.1 108.4 1806C111.8 1802 116 1798.1 120.6 1794.9C125.1 1791.7 131.2 1789.5 135.8 1786.8C140.3 1784.1 144.2 1781.7 147.9 1778.7C151.7 1775.6 154.4 1771.9 158.1 1768.5C161.8 1765.2 165.8 1761.1 170.2 1758.4C174.6 1755.7 179.7 1753.3 184.4 1752.3C189.1 1751.3 193.7 1751.5 198.6 1752.3Z" fill="#616161"/><g clip-path="url(#n8)"><ellipse cx="166.2" cy="1824.3" rx="10.1" ry="9.1" fill="#4e4e4e"/><ellipse cx="198.6" cy="1829.3" rx="7.1" ry="6.1" fill="#555555"/><ellipse cx="147.9" cy="1849.6" rx="7.1" ry="6.1" fill="#555555"/><rect x="180.9" y="1784.7" width="4.1" height="44.6" fill="#aaaaaa" opacity="0.35"/></g></g></g><rect x="205.7" y="1895.7" width="48.1" height="6.8" fill="#fff"/>
<g clip-path="url(#c9)"><g filter="url(#f9)"><rect x="63.2" y="1899" width="210.2" height="210.2" fill="#171717"/><ellipse cx="129.7" cy="1919.1" rx="30.4" ry="26.3" fill="#585858"/><rect x="133.2" y="1907.9" width="5.1" height="35.5" fill="#bebebe" opacity="0.5"/><path d="M203.7 1935.3C208.1 1936.5 213.5 1939.7 216.8 1943.4C220.2 1947.1 222.4 1952.5 223.9 1957.6C225.5 1962.7 226.3 1968.2 226 1973.8C225.6 1979.4 224.1 1985.5 221.9 1991C219.7 1996.6 216.2 2002 212.8 2007.2C209.4 2012.5 205.4 2017.5 201.6 2022.4C197.9 2027.3 194.2 2032.1 190.5 2036.6C186.8 2041.2 183.1 2045.8 179.4 2049.8C175.6 2053.9 171.4 2058.6 168.2 2061C165 2063.3 163.1 2064.3 160.1 2064C157.1 2063.7 153.7 2061.6 150 2058.9C146.2 2056.2 142 2052 137.8 2047.8C133.6 2043.6 128.7 2038.5 124.6 2033.6C120.6 2028.7 116.2 2023.6 113.5 2018.4C110.8 2013.2 108.8 2007.6 108.4 2002.2C108.1 1996.8 109.4 1990.7 111.5 1986C113.5 1981.2 116.9 1977.3 120.6 1973.8C124.3 1970.3 129.2 1967.6 133.7 1964.7C138.3 1961.8 143.2 1958.9 147.9 1956.6C152.7 1954.2 157.4 1952.7 162.1 1950.5C166.9 1948.3 171.6 1945.8 176.3 1943.4C181 1941 185.9 1937.7 190.5 1936.3C195.1 1935 199.3 1934.1 203.7 1935.3Z" fill="#606060"/><g clip-path="url(#n9)"><ellipse cx="142.9" cy="2014.3" rx="8.6" ry="9.1" fill="#3e3e3e"/><ellipse cx="178.3" cy="2009.3" rx="7.6" ry="7.6" fill="#484848"/><ellipse cx="183.4" cy="1978.9" rx="6.1" ry="5.1" fill="#505050"/><rect x="158.2" y="1956.6" width="6.3" height="107.4" fill="#d7d7d7" opacity="0.6"/></g></g></g><rect x="205.7" y="2080.7" width="48.1" height="7.1" fill="#fff"/>
<g clip-path="url(#c10)"><g filter="url(#f10)"><rect x="63.2" y="2084.7" width="210.2" height="210.2" fill="#212121"/><path d="M56.7 2078.7C68.9 2059.8 116.4 2072 129.7 2078.7C143 2085.5 136.1 2109.1 136.8 2119.3C137.5 2129.4 135.6 2133.1 133.7 2139.5C131.9 2146 129.2 2151.9 125.6 2157.8C122.1 2163.7 117.2 2170.3 112.5 2175C107.7 2179.7 106.6 2183.3 97.3 2186.2C88 2189 63.5 2210.1 56.7 2192.2C50 2174.3 44.6 2097.6 56.7 2078.7Z" fill="#585858"/><path d="M279.7 2195.3C276.2 2178.6 265.8 2197.1 259 2201.4C252.2 2205.6 243.8 2212.3 239.1 2220.6C234.5 2228.9 232.7 2237.5 231 2251C229.3 2264.5 220.9 2293.2 229 2301.7C237.1 2310.1 271.2 2319.4 279.7 2301.7C288.1 2283.9 283.1 2212 279.7 2195.3Z" fill="#3e3e3e"/><path d="M166.2 2138.5C171.4 2139 176.5 2141.7 181.4 2144.6C186.3 2147.5 191 2151.7 195.6 2155.7C200.1 2159.8 204.9 2164.2 208.7 2168.9C212.6 2173.7 216.3 2178.9 218.9 2184.1C221.4 2189.4 223.6 2195.1 223.9 2200.3C224.3 2205.6 223.1 2211.1 220.9 2215.5C218.7 2219.9 214.8 2224 210.8 2226.7C206.7 2229.4 201.1 2230.4 196.6 2231.8C192 2233.1 187.3 2233.3 183.4 2234.8C179.5 2236.3 177 2239.2 173.3 2240.9C169.6 2242.6 165.3 2243.7 161.1 2244.9C156.9 2246.1 152.5 2247 147.9 2248C143.4 2249 138.3 2251 133.7 2251C129.2 2251 124.5 2250.3 120.6 2248C116.7 2245.6 113.1 2241.4 110.4 2236.8C107.7 2232.3 105.4 2226.2 104.4 2220.6C103.3 2215 103.7 2209 104.4 2203.4C105 2197.8 106.6 2192.2 108.4 2187.2C110.3 2182.1 112.8 2177.4 115.5 2173C118.2 2168.6 121.3 2164.7 124.6 2160.8C128 2156.9 131.6 2152.9 135.8 2149.7C140 2146.5 144.9 2143.4 150 2141.6C155 2139.7 160.9 2138 166.2 2138.5Z" fill="#727272"/><g clip-path="url(#n10)"><ellipse cx="145.9" cy="2195.3" rx="9.6" ry="13.7" fill="#464646"/><ellipse cx="180.4" cy="2176" rx="6.6" ry="6.3" fill="#585858"/><rect x="160.9" y="2139.5" width="10.6" height="104.4" fill="#e1e1e1" opacity="0.6"/></g></g></g><rect x="204.9" y="2267.4" width="47.9" height="7.1" fill="#fff"/>
<g clip-path="url(#c11)"><g filter="url(#f11)"><rect x="63.2" y="2271.7" width="210.2" height="210.2" fill="#1e1e1e"/><ellipse cx="72.9" cy="2405.6" rx="9.1" ry="16.2" fill="#5f5f5f"/><ellipse cx="168.2" cy="2498.8" rx="141.9" ry="60.8" fill="#2a2a2a"/><path d="M173.3 2325.5C178.2 2326 184.9 2327.2 190.5 2329.6C196.1 2331.9 201.8 2335.5 206.7 2339.7C211.6 2343.9 216.3 2349.5 219.9 2354.9C223.4 2360.3 226.3 2366.4 228 2372.1C229.7 2377.9 230.4 2383.6 230 2389.4C229.7 2395.1 228.2 2401.2 226 2406.6C223.8 2412 220.7 2417.4 216.8 2421.8C213 2426.2 207.7 2429.9 202.7 2432.9C197.6 2436 192.2 2438.5 186.4 2440C180.7 2441.6 174.1 2442.2 168.2 2442.1C162.3 2441.9 156.6 2440.9 151 2439C145.4 2437.2 139.8 2434.3 134.8 2430.9C129.7 2427.5 124.6 2423.5 120.6 2418.8C116.5 2414 112.8 2408.1 110.4 2402.5C108.1 2397 106.6 2391.1 106.4 2385.3C106.2 2379.6 107.4 2373.5 109.4 2368.1C111.5 2362.7 114.8 2357.6 118.5 2352.9C122.3 2348.2 126.8 2343.4 131.7 2339.7C136.6 2336 143 2332.8 147.9 2330.6C152.8 2328.4 156.9 2327.4 161.1 2326.5C165.3 2325.7 168.4 2325 173.3 2325.5Z" fill="#787878"/><g clip-path="url(#n11)"><ellipse cx="153" cy="2395.4" rx="11.7" ry="10.6" fill="#525252"/><ellipse cx="191.5" cy="2383.3" rx="12.7" ry="9.6" fill="#525252"/><rect x="170.7" y="2326.5" width="7.1" height="50.7" fill="#bebebe" opacity="0.3"/></g></g></g><rect x="204.9" y="2453.2" width="47.9" height="6.9" fill="#fff"/>
<text x="6" y="34" font-size="45.5" stroke-width="1.09">A</text>
<text x="338" y="33" font-size="45.5" stroke-width="1.09">B</text>
<text x="1485.5" y="36" font-size="45.5" stroke-width="1.09">C</text>
<text x="-1.5" y="888.2" font-size="45.5" stroke-width="1.09">D</text>
<text x="353" y="887.6" font-size="45.5" stroke-width="1.09">E</text>
<text x="1357.5" y="887.8" font-size="45.5" stroke-width="1.09">F</text>
<text x="5" y="1719.3" font-size="45.5" stroke-width="1.09">G</text>
<text x="393" y="1719.6" font-size="45.5" stroke-width="1.09">H</text>
<text x="1381" y="1719.2" font-size="45.5" stroke-width="1.09">I</text>
<text x="168.2" y="27.2" font-size="26.6" text-anchor="middle" stroke-width="0.64">E4F1</text>
<text x="168.2" y="891.5" font-size="27.6" text-anchor="middle" stroke-width="0.66">CHD4</text>
<text x="168.2" y="1721.6" font-size="27.6" text-anchor="middle" stroke-width="0.66">CHD7</text>
<text x="58" y="121.9" font-size="27.8" text-anchor="middle" transform="rotate(-90 58 121.9)" stroke-width="0.67">Ø</text>
<text x="58" y="309.9" font-size="27.8" text-anchor="middle" transform="rotate(-90 58 309.9)" stroke-width="0.67">PARP1 WT</text>
<text x="58" y="495.7" font-size="27.8" text-anchor="middle" transform="rotate(-90 58 495.7)" stroke-width="0.67">PARP1 3SA</text>
<text x="58" y="687.8" font-size="27.8" text-anchor="middle" transform="rotate(-90 58 687.8)" stroke-width="0.67">PARP1 LW/AA</text>
<text x="63.8" y="979.4" font-size="27.8" text-anchor="middle" transform="rotate(-90 63.8 979.4)" stroke-width="0.67">Ø</text>
<text x="63.8" y="1163.5" font-size="27.8" text-anchor="middle" transform="rotate(-90 63.8 1163.5)" stroke-width="0.67">PARP1 WT</text>
<text x="63.8" y="1352.5" font-size="27.8" text-anchor="middle" transform="rotate(-90 63.8 1352.5)" stroke-width="0.67">PARP1 3SA</text>
<text x="63.8" y="1543.9" font-size="27.8" text-anchor="middle" transform="rotate(-90 63.8 1543.9)" stroke-width="0.67">PARP1 LW/AA</text>
<text x="63.8" y="1800.3" font-size="27.8" text-anchor="middle" transform="rotate(-90 63.8 1800.3)" stroke-width="0.67">Ø</text>
<text x="63.8" y="1985.9" font-size="27.8" text-anchor="middle" transform="rotate(-90 63.8 1985.9)" stroke-width="0.67">PARP1 WT</text>
<text x="63.8" y="2173.8" font-size="27.8" text-anchor="middle" transform="rotate(-90 63.8 2173.8)" stroke-width="0.67">PARP1 3SA</text>
<text x="63.8" y="2366.5" font-size="27.8" text-anchor="middle" transform="rotate(-90 63.8 2366.5)" stroke-width="0.67">PARP1 LW/AA</text>
<line x1="274.9" y1="48" x2="274.9" y2="735.4" stroke="#1a181b" stroke-width="2"/>
<line x1="270.4" y1="904.2" x2="270.4" y2="1628.7" stroke="#1a181b" stroke-width="2"/>
<line x1="270.4" y1="1726.5" x2="270.4" y2="2448.8" stroke="#1a181b" stroke-width="2"/>
<text transform="translate(299 349) rotate(90)" font-style="italic" font-size="33.3" stroke-width="0.8">PARP1<tspan dy="-10" font-size="26.5">KO</tspan></text>
<text transform="translate(292.5 1205.3) rotate(90)" font-style="italic" font-size="33.3" stroke-width="0.8">PARP1<tspan dy="-10" font-size="26.5">KO</tspan></text>
<text transform="translate(292.5 2027) rotate(90)" font-style="italic" font-size="33.3" stroke-width="0.8">PARP1<tspan dy="-10" font-size="26.5">KO</tspan></text>
<polyline points="520.2,674.1 525.1,682.7 530.3,656.7 536.1,636.4 541.9,619 544.8,610.4 550.6,608 555.8,607.5 560.7,582.9 567.9,568.4 573.7,555.4 582.4,538 588.2,529.3 596.9,509 605.6,513.4 613.7,517.1 620,504.7 628.7,509 637.4,494.5 649,483 654.8,488.2 663.5,485.9 672.2,480.1 679.4,476.6 685.2,467 692.4,472.8 706.9,475.7 718.5,468.5 727.2,464.1 734.4,475.7 741.7,472.8 748.9,475.7 756.1,471.4 763.4,464.1 770.6,467.9 776.4,454.6 786.5,461.3 793.8,452.6 801,449.7 806.8,465.6 816.9,463.3 822.7,463.3 830,457.5 835.8,461.3 841.5,452.6 850.2,452 863.3,456.9 874.8,453.4 880,454 887.2,451.1 891.6,461.3 901.7,452.6 914.7,458.4 923.4,449.7 930.7,445.3 937.9,452 945.1,452 950.9,463.3 959.6,447.6 966.9,452 972.7,452 979.9,459.2 987.1,447.6 1001.6,455.5 1008.8,445.3 1014.6,445.3 1024.8,449.7 1030.6,447.6 1039.2,447.6 1046.5,443.9 1053.7,436.1 1061,446.8 1071.1,451.1 1082.7,460.4 1094.3,462.1 1102.9,468.5 1111.6,459.2 1117.4,456.9 1124.7,456.9 1139.1,473.7 1144.9,465 1152.2,468.5 1159.4,480.7 1166.6,469.9 1173.9,471.4 1181.1,466.5 1188.4,466.5 1204.3,476.6 1213,466.5 1230.3,466.5 1239,480.1 1253.5,476.6 1268,485.9 1279.6,480.1 1289.7,476.6 1296.9,464.1 1304.2,464.1 1318.6,470.8 1325.9,464.1 1331.7,464.1 1347.6,473.7 1354.8,473.7 1362.1,470.8" fill="none" stroke="#7b8280" stroke-width="4" stroke-linejoin="round" stroke-linecap="round"/>
<polyline points="520.2,674.1 525.1,688.5 530.3,613.3 536.1,540.9 541.9,506.1 547.7,477.2 556.3,448.2 565,419.3 573.7,399 585.3,375.8 596.9,352.7 605.6,338.2 614.3,329.5 625.8,315 634.5,297.7 646.1,283.2 654.8,274.5 663.5,267.3 678,260 689.5,256.5 701.1,249.9 712.7,248.4 727.2,252.8 735.9,244.1 747.4,242.7 761.9,236.9 773.5,235.4 782.2,231.1 793.8,232.5 805.4,228.2 816.9,223.8 825.6,222.4 834.3,224.7 841.5,219.5 848.8,224.7 857.5,234 866.2,226.7 871.9,232.5 880,228.2 891.6,238.3 900.3,238.3 909,235.4 920.5,236 930.7,236 937.9,243.2 949.5,243.2 959.6,241.2 966.9,245.5 972.7,244.1 979.9,238.3 985.7,243.2 994.4,241.2 1001.6,245.5 1016.1,245.5 1030.6,245.5 1039.2,243.2 1053.7,245.5 1065.3,250.5 1075.4,255.7 1087,252.8 1095.7,260 1102.9,260 1110.2,252.8 1117.4,265.8 1124.7,257.7 1134.8,267.3 1139.1,267.3 1146.4,273.1 1155.1,273.6 1168.1,276.8 1173.9,275.1 1182.6,281.7 1191.3,278.3 1198.5,276.5 1205.7,284.6 1211.5,291 1217.3,281.7 1224.5,286.1 1231.8,283.8 1240.5,286.7 1249.2,283.8 1256.4,283.8 1268,276.8 1279.6,284.6 1285.4,286.7 1296.9,288.4 1305.6,289.6 1311.4,289.6 1318.6,291.9 1325.9,296.2 1331.7,291.3 1343.3,291.3 1350.5,291.3 1354.8,287 1362.1,286.1" fill="none" stroke="#0f0f12" stroke-width="4" stroke-linejoin="round" stroke-linecap="round"/>
<polyline points="520.2,674.1 525.1,690 530.3,601.7 536.1,535.1 541.9,497.4 546.2,471.4 553.5,445.3 560.7,414.9 569.4,401.9 576.6,378.7 585.3,364.3 591.1,357 599.8,335.3 607,326.6 612.8,326.6 620,309.2 628.7,302 634.5,293.3 643.2,291.9 651.9,283.8 662,283.2 669.3,269.3 678,265.8 689.5,261.5 698.2,259.4 706.9,251.3 715.6,245.5 727.2,241.2 735.9,243.2 747.4,240.3 756.1,238.3 761.9,229.6 770.6,238.3 779.3,231.6 788,232.5 799.6,228.2 808.2,222.4 814,217.2 825.6,215.1 835.8,210.2 843,213.7 851.7,219.5 857.5,218 869,210.2 877.7,216 880,217.2 888.7,215.1 900.3,207.3 911.8,210.8 923.4,214.3 936.5,212.3 943.7,217.2 950.9,215.1 966.9,220.9 978.4,220.9 987.1,225.9 995.8,226.7 1008.8,235.4 1016.1,228.2 1024.8,223.8 1036.3,228.8 1045,231.6 1053.7,226.7 1063.9,236.3 1074,229.6 1082.7,234 1094.3,234 1102.9,236.3 1111.6,231.6 1118.9,234 1126.1,241.2 1134.8,243.2 1144.9,245.5 1152.2,243.2 1159.4,250.8 1169.5,248.4 1182.6,245.5 1191.3,250.5 1197,250.5 1204.3,242.1 1211.5,252.8 1218.8,248.4 1227.4,244.1 1239,243.2 1247.7,247 1256.4,249 1266.5,249.9 1276.7,257.7 1281,245.5 1291.1,252.8 1296.9,254.8 1305.6,252.8 1317.2,252.8 1327.3,269.3 1331.7,255.7 1343.3,258.6 1354.8,258 1362.1,258" fill="none" stroke="#e8192f" stroke-width="4" stroke-linejoin="round" stroke-linecap="round"/>
<polyline points="520.2,674.1 525.1,685.6 530.3,627.7 536.1,601.7 541.9,581.4 547.7,569.8 554.9,559.7 562.1,553.9 569.4,545.2 576.6,533.6 583.9,523.5 591.1,511.9 598.3,509 605.6,501.8 612.8,493.1 622.9,491.7 628.7,488.8 634.5,478.6 640.3,478 649,468.5 656.2,466.2 663.5,472.8 669.3,459.2 678,461.3 685.2,452.6 692.4,451.1 699.7,444.7 706.9,442.4 715.6,439 727.2,435.2 734.4,428 741.7,428 750.3,425.1 761.9,421.6 776.4,416.4 786.5,404.2 792.3,407.7 799.6,404.8 812.6,394.7 821.3,401.3 828.5,396.1 840.1,396.7 850.2,394.7 857.5,401.9 864.7,406.2 871.9,399.6 877.7,400.7 880,401.9 888.7,391.8 898.8,391.8 907.5,397.6 914.7,394.7 922,397.6 930.7,392.6 936.5,399.6 945.1,394.7 952.4,394.7 962.5,398.4 972.7,401.9 979.9,399 987.1,391.8 995.8,394.7 1008.8,401.9 1016.1,396.7 1024.8,394.7 1030.6,399.6 1037.8,388.9 1045,396.7 1053.7,392.6 1061,401.9 1074,395.5 1079.8,386 1087,384.5 1094.3,380.2 1102.9,384.5 1110.2,384.5 1118.9,380.2 1127.6,380.2 1134.8,381.6 1142,380.2 1149.3,381.6 1159.4,380.2 1168.1,375.3 1181.1,375.3 1198.5,375.3 1204.3,380.2 1217.3,365.7 1224.5,372.4 1231.8,372.9 1239,380.2 1246.3,374.4 1253.5,370.6 1265.1,372.9 1276.7,375.3 1289.7,371.5 1296.9,372.9 1305.6,372.9 1314.3,370.6 1325.9,370.6 1333.1,365.7 1347.6,365.7 1354.8,357.9 1362.1,360.8" fill="none" stroke="#1b72e8" stroke-width="4" stroke-linejoin="round" stroke-linecap="round"/>
<path d="M539.8 500.9V520.3M533.6 500.9h12.5M533.6 520.3h12.5M569.4 383.1V420.7M563.1 383.1h12.5M563.1 420.7h12.5M597.5 314.5V367.7M591.2 314.5h12.5M591.2 367.7h12.5M626.4 278V329.9M620.2 278h12.5M620.2 329.9h12.5M655.7 251.9V295.6M649.4 251.9h12.5M649.4 295.6h12.5M683.7 229.6V287M677.5 229.6h12.5M677.5 287h12.5M713.3 218V276.1M707 218h12.5M707 276.1h12.5M742.5 210.8V270.2M736.3 210.8h12.5M736.3 270.2h12.5M770.6 205.6V266M764.4 205.6h12.5M764.4 266h12.5M800.1 196.3V258.6M793.9 196.3h12.5M793.9 258.6h12.5M829.1 182.4V244.5M822.8 182.4h12.5M822.8 244.5h12.5M857.5 187.1V249M851.2 187.1h12.5M851.2 249h12.5M885.8 184.7V246.9M879.5 184.7h12.5M879.5 246.9h12.5M915.3 177.5V246.2M909.1 177.5h12.5M909.1 246.2h12.5M943.7 181.8V252.5M937.4 181.8h12.5M937.4 252.5h12.5M972.7 187.1V254.8M966.4 187.1h12.5M966.4 254.8h12.5M1002.2 199.2V262.7M995.9 199.2h12.5M995.9 262.7h12.5M1030.6 192V260.6M1024.3 192h12.5M1024.3 260.6h12.5M1060.1 199.2V266.2M1053.8 199.2h12.5M1053.8 266.2h12.5M1088.5 199.2V268.7M1082.2 199.2h12.5M1082.2 268.7h12.5M1116.8 199.2V267.4M1110.6 199.2h12.5M1110.6 267.4h12.5M1145.8 209.4V281.2M1139.5 209.4h12.5M1139.5 281.2h12.5M1175.3 213.1V281.2M1169.1 213.1h12.5M1169.1 281.2h12.5M1204.3 205.6V278.6M1198 205.6h12.5M1198 278.6h12.5M1232.4 211.4V276.1M1226.1 211.4h12.5M1226.1 276.1h12.5M1261.6 216V282.9M1255.4 216h12.5M1255.4 282.9h12.5M1289.7 213.1V290.4M1283.4 213.1h12.5M1283.4 290.4h12.5M1319.2 218V294.1M1313 218h12.5M1313 294.1h12.5M1348.2 223V293.7M1341.9 223h12.5M1341.9 293.7h12.5M539.8 500.9V542.3M533.6 500.9h12.5M533.6 542.3h12.5M569.4 387.4V430.9M563.1 387.4h12.5M563.1 430.9h12.5M597.5 329.9V373.5M591.2 329.9h12.5M591.2 373.5h12.5M626.4 289.6V338.2M620.2 289.6h12.5M620.2 338.2h12.5M655.7 255.5V311.6M649.4 255.5h12.5M649.4 311.6h12.5M683.7 234.8V292.5M677.5 234.8h12.5M677.5 292.5h12.5M713.3 219.8V277.4M707 219.8h12.5M707 277.4h12.5M742.5 216.4V270.2M736.3 216.4h12.5M736.3 270.2h12.5M770.6 206.5V270.2M764.4 206.5h12.5M764.4 270.2h12.5M800.1 201.7V258.6M793.9 201.7h12.5M793.9 258.6h12.5M829.1 195.3V251.3M822.8 195.3h12.5M822.8 251.3h12.5M857.5 207.3V260.6M851.2 207.3h12.5M851.2 260.6h12.5M885.8 207V259.4M879.5 207h12.5M879.5 259.4h12.5M915.3 208V263.5M909.1 208h12.5M909.1 263.5h12.5M943.7 213.4V273.1M937.4 213.4h12.5M937.4 273.1h12.5M972.7 218V270.2M966.4 218h12.5M966.4 270.2h12.5M1002.2 223V268.1M995.9 223h12.5M995.9 268.1h12.5M1030.6 220.9V270.2M1024.3 220.9h12.5M1024.3 270.2h12.5M1060.1 226.9V269.6M1053.8 226.9h12.5M1053.8 269.6h12.5M1088.5 232.9V275.1M1082.2 232.9h12.5M1082.2 275.1h12.5M1116.8 237.1V292.5M1110.6 237.1h12.5M1110.6 292.5h12.5M1145.8 245.5V299.7M1139.5 245.5h12.5M1139.5 299.7h12.5M1175.3 251V301.4M1169.1 251h12.5M1169.1 301.4h12.5M1204.3 254.5V311.6M1198 254.5h12.5M1198 311.6h12.5M1232.4 256.4V311.6M1226.1 256.4h12.5M1226.1 311.6h12.5M1261.6 256.4V304.9M1255.4 256.4h12.5M1255.4 304.9h12.5M1289.7 258.1V316.5M1283.4 258.1h12.5M1283.4 316.5h12.5M1319.2 260.7V323.7M1313 260.7h12.5M1313 323.7h12.5M1348.2 261.2V321.4M1341.9 261.2h12.5M1341.9 321.4h12.5M539.8 584.3V613.3M533.6 584.3h12.5M533.6 613.3h12.5M569.4 532.2V561.1M563.1 532.2h12.5M563.1 561.1h12.5M597.5 487.3V523.5M591.2 487.3h12.5M591.2 523.5h12.5M626.4 475.1V494.5M620.2 475.1h12.5M620.2 494.5h12.5M655.7 451.1V483M649.4 451.1h12.5M649.4 483h12.5M683.7 439V465.6M677.5 439h12.5M677.5 465.6h12.5M713.3 423.6V454M707 423.6h12.5M707 454h12.5M742.5 412V446.8M736.3 412h12.5M736.3 446.8h12.5M770.6 405.4V431.4M764.4 405.4h12.5M764.4 431.4h12.5M800.1 390.9V419.3M793.9 390.9h12.5M793.9 419.3h12.5M829.1 383.1V410M822.8 383.1h12.5M822.8 410h12.5M857.5 388V414.1M851.2 388h12.5M851.2 414.1h12.5M885.8 381.6V409.7M879.5 381.6h12.5M879.5 409.7h12.5M915.3 378.7V409.7M909.1 378.7h12.5M909.1 409.7h12.5M943.7 378.7V409.7M937.4 378.7h12.5M937.4 409.7h12.5M972.7 386.6V419.8M966.4 386.6h12.5M966.4 419.8h12.5M1002.2 378.7V414.3M995.9 378.7h12.5M995.9 414.3h12.5M1030.6 378.7V419.8M1024.3 378.7h12.5M1024.3 419.8h12.5M1060.1 381.6V422.2M1053.8 381.6h12.5M1053.8 422.2h12.5M1088.5 366.6V402.8M1082.2 366.6h12.5M1082.2 402.8h12.5M1116.8 359.3V402.8M1110.6 359.3h12.5M1110.6 402.8h12.5M1145.8 359.3V402.8M1139.5 359.3h12.5M1139.5 402.8h12.5M1175.3 355V392.6M1169.1 355h12.5M1169.1 392.6h12.5M1204.3 357.6V400.4M1198 357.6h12.5M1198 400.4h12.5M1232.4 352.7V393.2M1226.1 352.7h12.5M1226.1 393.2h12.5M1261.6 349.8V395.5M1255.4 349.8h12.5M1255.4 395.5h12.5M1289.7 347.8V393.2M1283.4 347.8h12.5M1283.4 393.2h12.5M1319.2 345.4V393.2M1313 345.4h12.5M1313 393.2h12.5M1348.2 340.5V388.3M1341.9 340.5h12.5M1341.9 388.3h12.5M539.8 601.7V630.6M533.6 601.7h12.5M533.6 630.6h12.5M569.4 552.5V582.9M563.1 552.5h12.5M563.1 582.9h12.5M597.5 491.7V527.8M591.2 491.7h12.5M591.2 527.8h12.5M626.4 488.8V529.3M620.2 488.8h12.5M620.2 529.3h12.5M655.7 462.7V512.5M649.4 462.7h12.5M649.4 512.5h12.5M683.7 448.2V488.8M677.5 448.2h12.5M677.5 488.8h12.5M713.3 455.5V494M707 455.5h12.5M707 494h12.5M742.5 448.2V496M736.3 448.2h12.5M736.3 496h12.5M770.6 451.1V486.4M764.4 451.1h12.5M764.4 486.4h12.5M800.1 431.4V467M793.9 431.4h12.5M793.9 467h12.5M829.1 438.7V477.2M822.8 438.7h12.5M822.8 477.2h12.5M857.5 436.1V469.9M851.2 436.1h12.5M851.2 469.9h12.5M885.8 430V472M879.5 430h12.5M879.5 472h12.5M915.3 438.7V479.5M909.1 438.7h12.5M909.1 479.5h12.5M943.7 434.3V472M937.4 434.3h12.5M937.4 472h12.5M972.7 434.3V472M966.4 434.3h12.5M966.4 472h12.5M1002.2 436.6V474.9M995.9 436.6h12.5M995.9 474.9h12.5M1030.6 427.1V464.7M1024.3 427.1h12.5M1024.3 464.7h12.5M1060.1 430.9V467.6M1053.8 430.9h12.5M1053.8 467.6h12.5M1088.5 438.7V484.4M1082.2 438.7h12.5M1082.2 484.4h12.5M1116.8 431.4V479.2M1110.6 431.4h12.5M1110.6 479.2h12.5M1145.8 443.9V486.7M1139.5 443.9h12.5M1139.5 486.7h12.5M1175.3 453.1V488.8M1169.1 453.1h12.5M1169.1 488.8h12.5M1204.3 458.4V496M1198 458.4h12.5M1198 496h12.5M1232.4 451.1V488.8M1226.1 451.1h12.5M1226.1 488.8h12.5M1261.6 463.3V498.9M1255.4 463.3h12.5M1255.4 498.9h12.5M1289.7 458.4V494M1283.4 458.4h12.5M1283.4 494h12.5M1319.2 453.1V488.8M1313 453.1h12.5M1313 488.8h12.5M1348.2 451.1V494M1341.9 451.1h12.5M1341.9 494h12.5" fill="none" stroke="#111" stroke-width="2.3"/>
<path d="M518.1 165V698.7M486.9 674.1H1383.8M486.9 192H518.1M486.9 311.3H518.1M486.9 430.9H518.1M486.9 553.3H518.1M662 674.1V698.7M806 674.1V698.7M952.4 674.1V698.7M1096.3 674.1V698.7M1239.9 674.1V698.7M1383.8 674.1V698.7" fill="none" stroke="#1a1a1a" stroke-width="2.2"/>
<text x="481.2" y="203.9" font-size="33.3" text-anchor="end" stroke-width="0.80">1.20</text>
<text x="481.2" y="323.2" font-size="33.3" text-anchor="end" stroke-width="0.80">1.15</text>
<text x="481.2" y="442.8" font-size="33.3" text-anchor="end" stroke-width="0.80">1.10</text>
<text x="481.2" y="565.2" font-size="33.3" text-anchor="end" stroke-width="0.80">1.05</text>
<text x="481.2" y="686" font-size="33.3" text-anchor="end" stroke-width="0.80">1.00</text>
<text x="518" y="738" font-size="33.3" text-anchor="middle" stroke-width="0.80">0</text>
<text x="666" y="738" font-size="33.3" text-anchor="middle" stroke-width="0.80">100</text>
<text x="811" y="738" font-size="33.3" text-anchor="middle" stroke-width="0.80">200</text>
<text x="957" y="738" font-size="33.3" text-anchor="middle" stroke-width="0.80">300</text>
<text x="1100" y="738" font-size="33.3" text-anchor="middle" stroke-width="0.80">400</text>
<text x="1245.6" y="738" font-size="33.3" text-anchor="middle" stroke-width="0.80">500</text>
<text x="1389" y="738" font-size="33.3" text-anchor="middle" stroke-width="0.80">600</text>
<text x="399" y="433.5" font-size="37.2" text-anchor="middle" transform="rotate(-90 399 433.5)" stroke-width="0.89">E4F1 recruitment</text>
<text x="956" y="790.5" font-size="33.4" text-anchor="middle" stroke-width="0.80">Time post-irradiation (sec)</text>
<rect x="547.6" y="10.8" width="26.4" height="26" fill="#8a9797"/>
<text x="585.8" y="33.4" font-size="33.5" stroke-width="0.8"><tspan font-style="italic">PARP1</tspan><tspan font-style="italic" dy="-9.5" font-size="26.5">KO</tspan></text>
<rect x="547.6" y="51.2" width="26.4" height="26" fill="#17161b"/>
<text x="585.8" y="74.7" font-size="33.5" stroke-width="0.8"><tspan font-style="italic">PARP1</tspan><tspan font-style="italic" dy="-9.5" font-size="26.5">KO</tspan><tspan dy="9.5" xml:space="preserve"> + mCh-PARP1 WT</tspan></text>
<rect x="547.6" y="92.2" width="26.4" height="26" fill="#fa1326"/>
<text x="585.8" y="116.4" font-size="33.5" stroke-width="0.8"><tspan font-style="italic">PARP1</tspan><tspan font-style="italic" dy="-9.5" font-size="26.5">KO</tspan><tspan dy="9.5" xml:space="preserve"> + mCh-PARP1 3SA</tspan></text>
<rect x="547.6" y="128.3" width="26.4" height="26" fill="#0d70f3"/>
<text x="585.8" y="153.3" font-size="33.5" stroke-width="0.8"><tspan font-style="italic">PARP1</tspan><tspan font-style="italic" dy="-9.5" font-size="26.5">KO</tspan><tspan dy="9.5" xml:space="preserve"> + mCh-PARP1 LW/AA</tspan></text>
<polyline points="482.8,1452.2 488.6,1417.5 494.4,1400.1 500.2,1398.6 507.4,1391.4 514.6,1392.9 520.4,1371.1 526.2,1366.8 533.5,1372.6 539.2,1362.5 546.5,1349.4 553.7,1355.2 559.5,1355.2 568.2,1345.1 576.9,1336.4 585.6,1334.9 594.3,1329.2 601.5,1325.4 605.8,1316.7 617.4,1314.7 629,1315.6 636.2,1316.1 643.5,1304.5 652.2,1305.1 665.2,1299.3 675.3,1303.1 684,1299.3 694.1,1299.3 699.9,1306 710.1,1296.4 721.7,1296.4 727.4,1298.8 733.2,1295.9 740.5,1298.8 747.7,1296.4 756.4,1307.4 765.1,1298.8 770.9,1300.2 779.6,1307.4 791.1,1301.7 796.9,1293 802.7,1291.5 811.4,1297.3 817.2,1295.9 828.8,1298.8 836,1292.4 843.3,1300.2 854.8,1304.5 860,1304.5 871.6,1303.1 881.7,1295.9 889,1298.8 902,1304.5 907.8,1298.2 920.8,1300.2 928,1298.2 939.6,1305.1 946.9,1305.1 952.7,1310.9 958.4,1300.2 965.7,1298.2 971.5,1307.4 978.7,1298.2 985.9,1298.2 990.3,1306 997.5,1296.4 1010.6,1304.5 1017.8,1300.2 1025,1306 1030.8,1306 1036,1296.4 1043.9,1301.7 1049.6,1304 1062.7,1303.1 1069,1306 1082.9,1304.5 1088.7,1303.1 1094.5,1304.5 1101.8,1297.3 1107.6,1303.1 1114.8,1316.7 1120.6,1311.8 1126.4,1309.8 1133.6,1301.7 1139.4,1299.3 1146.6,1310.3 1158.2,1306 1165.5,1301.1 1172.7,1307.4 1178.5,1307.4 1184.3,1304.5 1193,1307.4 1204,1306 1210.3,1308 1223.4,1306 1231.2,1306.9" fill="none" stroke="#a6aba8" stroke-width="4.1" stroke-linejoin="round" stroke-linecap="round"/>
<polyline points="482.8,1452.2 485.7,1484.1 489.4,1503.7 494.4,1475.4 501.6,1437.7 510.3,1405.9 519,1371.1 524.8,1353.8 530.6,1342.2 539.2,1334.9 547.9,1316.1 556.6,1301.7 565.3,1278.5 572.5,1269.8 579.8,1248.1 584.1,1251.9 592.8,1233.6 600,1230.7 608.7,1219.1 617.4,1210.4 629,1190.2 636.2,1188.7 643.5,1175.7 649.3,1165.6 658,1161.2 665.2,1158.3 675.3,1148.2 681.1,1155.4 686.9,1135.2 695.6,1133.1 702.8,1130.8 713,1127.9 721.7,1117.8 727.4,1114.9 733.2,1100.4 740.5,1110.6 746.3,1110 753.5,1096.1 759.3,1097.5 765.1,1091.7 770.9,1092.6 779.6,1090.3 786.8,1083.1 792.6,1088.8 798.4,1072.9 811.4,1084.5 818.6,1081.6 828.8,1075.8 837.5,1075.8 844.7,1081.6 850.5,1065.7 857.7,1072.3 860,1071.5 868.7,1070 875.9,1064.2 886.1,1071.5 899.1,1073.5 906.3,1061.3 913.6,1072.9 920.8,1065.7 928,1078.1 933.8,1066.5 939.6,1080.2 945.4,1072.9 952.7,1074.4 961.3,1069.4 971.5,1080.2 978.7,1072.9 985.9,1083.1 990.3,1062.8 997.5,1062.8 1004.8,1068.6 1016.3,1068.6 1025,1085.1 1030.8,1090.9 1036,1069.4 1043.9,1076.4 1049.6,1075.8 1056.9,1080.2 1068.5,1082.2 1074.3,1072.3 1081.5,1073.5 1088.7,1084.5 1098.9,1078.7 1106.1,1087.4 1113.3,1092.6 1122,1094.6 1129.3,1095.5 1138,1099.6 1146.6,1102.5 1158.2,1098.4 1165.5,1107.1 1172.7,1099 1178.5,1100.4 1184.3,1114.9 1190.1,1109.1 1198.8,1116.9 1207.4,1112 1214.7,1112 1223.4,1119.2 1231.2,1112.9" fill="none" stroke="#0f0f12" stroke-width="4.1" stroke-linejoin="round" stroke-linecap="round"/>
<polyline points="482.8,1452.2 485.7,1481.2 490,1501.4 494.4,1481.2 501.6,1452.2 510.3,1423.3 519,1397.2 524.8,1392.9 530.6,1378.4 536.3,1363.9 545,1346.5 552.3,1329.2 558.1,1327.1 565.3,1308.9 571.1,1307.4 579.8,1290.1 588.5,1277 598.6,1262.6 602.9,1264 611.6,1242.3 620.3,1233.6 626.1,1227.8 631.9,1230.7 639.1,1214.2 643.5,1207.6 649.3,1211.9 658,1196 663.7,1194.5 672.4,1182.9 681.1,1179.5 686.9,1175.7 698.5,1165.6 713,1156.9 720.2,1143.9 727.4,1146.8 733.2,1143 740.5,1130.8 749.2,1127.4 756.4,1126.5 765.1,1126.5 772.3,1118.7 779.6,1118.7 786.8,1107.7 791.1,1107.1 798.4,1110 811.4,1100.4 820.1,1099.6 828.8,1101.9 837.5,1098.4 849,1084.5 857.7,1087.4 860,1091.7 868.7,1088.8 875.9,1090.3 887.5,1082.2 894.7,1087.4 902,1087.4 907.8,1081 915,1085.9 920.8,1072.9 926.6,1074.4 933.8,1081 939.6,1070 946.3,1062.8 952.7,1069.4 959.9,1067.7 965.7,1064.2 971.5,1068.6 978.7,1059.9 985.9,1067.7 990.3,1063.7 997.5,1058.4 1004.2,1076.4 1010.6,1064.8 1017.8,1066.5 1030.8,1065.7 1043.9,1065.7 1049.6,1060.8 1055.4,1064.8 1062.7,1056.1 1069.9,1064.8 1077.2,1065.7 1082.9,1067.7 1094.5,1060.8 1100.3,1073.5 1106.1,1068.6 1113.3,1070.6 1120.6,1075.8 1126.4,1088 1133.6,1081 1140.9,1080.2 1146.6,1077.3 1152.4,1078.1 1158.2,1075.2 1165.5,1076.4 1172.7,1074.4 1178.5,1077.3 1185.7,1083.9 1193,1085.9 1201.7,1087.4 1208.9,1086.8 1216.1,1090.3 1223.4,1096.1 1231.2,1107.1" fill="none" stroke="#e8192f" stroke-width="4.1" stroke-linejoin="round" stroke-linecap="round"/>
<polyline points="482.8,1452.2 488.6,1465.2 494.4,1497.1 501.6,1463.8 508.8,1463.8 517.5,1433.4 523.3,1411.7 527.7,1411.7 533.5,1385.6 539.2,1384.2 546.5,1388.5 552.3,1388.5 559.5,1379.8 566.8,1371.1 574,1348 579.8,1346.5 587,1339.3 594.3,1337.8 598.6,1330.6 602.9,1342.2 610.2,1336.4 617.4,1317.6 624.7,1316.1 631.9,1298.8 637.7,1295.9 643.5,1287.2 649.3,1301.7 656.5,1290.1 663.7,1287.2 675.3,1264.6 681.1,1289.5 686.9,1275.6 694.1,1288.6 701.4,1275.6 710.1,1266.9 718.8,1262.6 727.4,1238 739,1261.1 746.3,1283.7 752.1,1242.3 759.3,1252.4 770.9,1255.9 779.6,1233.6 785.4,1257.6 792.6,1236.5 798.4,1238 811.4,1232.2 817.2,1265.5 830.2,1226.4 836,1249.5 843.3,1246.6 849,1230.7 856.3,1239.4 860,1233.6 862.9,1223.5 868.7,1252.4 875.9,1275.6 881.7,1240.3 889,1245.2 896.2,1251.9 902,1234.5 907.8,1235.1 913.6,1229.8 920.2,1253.9 928,1227.8 933.8,1262.6 939.6,1227 946.9,1249.5 952.7,1248.1 959.9,1227.8 965.7,1288.6 972.9,1255.3 980.2,1253 985.9,1249.5 993.2,1251.9 1003.3,1264 1011.1,1238 1017.8,1270.4 1025,1268.4 1030.8,1268.4 1036,1246.6 1043.9,1270.4 1049.6,1246.1 1062.7,1255.3 1069,1275.6 1074.3,1274.1 1081.5,1279.9 1087.3,1272.7 1094.5,1270.4 1106.1,1290.1 1114.8,1275 1120.6,1279.9 1126.4,1279.1 1133.6,1280.8 1139.4,1304 1152.4,1266.3 1159.7,1292.4 1165.5,1291.5 1172.7,1272.1 1184.3,1293 1190.1,1268.4 1198.2,1298.2 1204,1280.8 1210.3,1297.3 1217.6,1288.6 1223.4,1293 1231.2,1284.3" fill="none" stroke="#1b72e8" stroke-width="4.1" stroke-linejoin="round" stroke-linecap="round"/>
<path d="M521.3 1359.6V1368.8M516.9 1359.6h8.8M516.9 1368.8h8.8M560.1 1274.7V1310M555.7 1274.7h8.8M555.7 1310h8.8M598.6 1209.6V1253M594.2 1209.6h8.8M594.2 1253h8.8M636.8 1159.8V1215.6M632.4 1159.8h8.8M632.4 1215.6h8.8M675.3 1117.8V1178.6M670.9 1117.8h8.8M670.9 1178.6h8.8M713.8 1095.2V1158.6M709.4 1095.2h8.8M709.4 1158.6h8.8M753.5 1059V1133.1M749.1 1059h8.8M749.1 1133.1h8.8M791.1 1051.2V1123.6M786.7 1051.2h8.8M786.7 1123.6h8.8M829.6 1033V1118.7M825.2 1033h8.8M825.2 1118.7h8.8M868.7 1028.9V1111.1M864.3 1028.9h8.8M864.3 1111.1h8.8M907.8 1014.4V1112.9M903.4 1014.4h8.8M903.4 1112.9h8.8M946.3 1008.6V1116.9M941.9 1008.6h8.8M941.9 1116.9h8.8M985.1 1018.8V1114.8M980.7 1018.8h8.8M980.7 1114.8h8.8M1023.6 1016.7V1115.6M1019.2 1016.7h8.8M1019.2 1115.6h8.8M1062.1 1004.9V1108.8M1057.7 1004.9h8.8M1057.7 1108.8h8.8M1100.9 1027.2V1118.8M1096.5 1027.2h8.8M1096.5 1118.8h8.8M1140 1033V1127.6M1135.6 1033h8.8M1135.6 1127.6h8.8M1178.5 1035.3V1119.2M1174.1 1035.3h8.8M1174.1 1119.2h8.8M1223.4 1051.2V1141M1219 1051.2h8.8M1219 1141h8.8M521.3 1383.3V1394.3M516.9 1383.3h8.8M516.9 1394.3h8.8M560.1 1296.1V1348M555.7 1296.1h8.8M555.7 1348h8.8M598.6 1233.6V1291.5M594.2 1233.6h8.8M594.2 1291.5h8.8M636.8 1183.7V1255.3M632.4 1183.7h8.8M632.4 1255.3h8.8M675.3 1140.7V1222.9M670.9 1140.7h8.8M670.9 1222.9h8.8M713.8 1108V1202.6M709.4 1108h8.8M709.4 1202.6h8.8M753.5 1077.1V1176.6M749.1 1077.1h8.8M749.1 1176.6h8.8M791.1 1055.8V1158.3M786.7 1055.8h8.8M786.7 1158.3h8.8M829.6 1049.1V1154M825.2 1049.1h8.8M825.2 1154h8.8M868.7 1035.9V1141.8M864.3 1035.9h8.8M864.3 1141.8h8.8M907.8 1026.3V1135.7M903.4 1026.3h8.8M903.4 1135.7h8.8M946.3 1028.4V1117.8M941.9 1028.4h8.8M941.9 1117.8h8.8M985.1 1034.3V1129.4M980.7 1034.3h8.8M980.7 1129.4h8.8M1023.6 1040.8V1123.9M1019.2 1040.8h8.8M1019.2 1123.9h8.8M1062.1 1034.8V1127.4M1057.7 1034.8h8.8M1057.7 1127.4h8.8M1100.9 1034.9V1127.4M1096.5 1034.9h8.8M1096.5 1127.4h8.8M1140 1055.2V1145.3M1135.6 1055.2h8.8M1135.6 1145.3h8.8M1178.5 1051.2V1149.6M1174.1 1051.2h8.8M1174.1 1149.6h8.8M1223.4 1068.6V1169.9M1219 1068.6h8.8M1219 1169.9h8.8M521.3 1394.3V1423.3M516.9 1394.3h8.8M516.9 1423.3h8.8M560.1 1362.5V1395.8M555.7 1362.5h8.8M555.7 1395.8h8.8M598.6 1319V1346M594.2 1319h8.8M594.2 1346h8.8M636.8 1272.7V1330.6M632.4 1272.7h8.8M632.4 1330.6h8.8M675.3 1238.5V1290.1M670.9 1238.5h8.8M670.9 1290.1h8.8M713.8 1240.3V1293M709.4 1240.3h8.8M709.4 1293h8.8M753.5 1220.6V1263.4M749.1 1220.6h8.8M749.1 1263.4h8.8M791.1 1208.4V1265.5M786.7 1208.4h8.8M786.7 1265.5h8.8M829.6 1204.7V1245.2M825.2 1204.7h8.8M825.2 1245.2h8.8M868.7 1230.7V1275M864.3 1230.7h8.8M864.3 1275h8.8M907.8 1214.8V1256.8M903.4 1214.8h8.8M903.4 1256.8h8.8M946.3 1221.2V1279.1M941.9 1221.2h8.8M941.9 1279.1h8.8M985.1 1222.9V1275M980.7 1222.9h8.8M980.7 1275h8.8M1023.6 1249V1287.2M1019.2 1249h8.8M1019.2 1287.2h8.8M1062.1 1229.3V1282.8M1057.7 1229.3h8.8M1057.7 1282.8h8.8M1100.9 1249V1307.4M1096.5 1249h8.8M1096.5 1307.4h8.8M1140 1277V1327.7M1135.6 1277h8.8M1135.6 1327.7h8.8M1178.5 1251V1295.9M1174.1 1251h8.8M1174.1 1295.9h8.8M1223.4 1261.1V1319M1219 1261.1h8.8M1219 1319h8.8M521.3 1379.8V1405.9M516.9 1379.8h8.8M516.9 1405.9h8.8M560.1 1339.3V1371.1M555.7 1339.3h8.8M555.7 1371.1h8.8M598.6 1310.9V1342.2M594.2 1310.9h8.8M594.2 1342.2h8.8M636.8 1295.9V1321.9M632.4 1295.9h8.8M632.4 1321.9h8.8M675.3 1284.3V1321.9M670.9 1284.3h8.8M670.9 1321.9h8.8M713.8 1284.3V1315.6M709.4 1284.3h8.8M709.4 1315.6h8.8M753.5 1284.9V1315.6M749.1 1284.9h8.8M749.1 1315.6h8.8M791.1 1286.6V1315.6M786.7 1286.6h8.8M786.7 1315.6h8.8M829.6 1286.6V1313.8M825.2 1286.6h8.8M825.2 1313.8h8.8M868.7 1290.7V1317.6M864.3 1290.7h8.8M864.3 1317.6h8.8M907.8 1285.7V1313.2M903.4 1285.7h8.8M903.4 1313.2h8.8M946.3 1291.5V1317.6M941.9 1291.5h8.8M941.9 1317.6h8.8M985.1 1285.7V1311.8M980.7 1285.7h8.8M980.7 1311.8h8.8M1023.6 1297.3V1315.6M1019.2 1297.3h8.8M1019.2 1315.6h8.8M1062.1 1293.5V1309.8M1057.7 1293.5h8.8M1057.7 1309.8h8.8M1100.9 1288.6V1308.9M1096.5 1288.6h8.8M1096.5 1308.9h8.8M1140 1295.9V1311.8M1135.6 1295.9h8.8M1135.6 1311.8h8.8M1178.5 1295.3V1319.6M1174.1 1295.3h8.8M1174.1 1319.6h8.8M1223.4 1295.3V1323.4M1219 1295.3h8.8M1219 1323.4h8.8" fill="none" stroke="#111" stroke-width="2.1"/>
<path d="M482.8 978V1536.8M482.8 1508.5H1256.1M461.6 978H482.8M461.6 1097H482.8M461.6 1214.2H482.8M461.6 1333.5H482.8M461.6 1450.8H482.8M610.8 1508.5V1536.8M739.9 1508.5V1536.8M869.3 1508.5V1536.8M997.5 1508.5V1536.8M1127 1508.5V1536.8M1256.1 1508.5V1536.8" fill="none" stroke="#1a1a1a" stroke-width="2.2"/>
<text x="453.8" y="990.8" font-size="35.8" text-anchor="end" stroke-width="0.86">1.4</text>
<text x="453.8" y="1109.8" font-size="35.8" text-anchor="end" stroke-width="0.86">1.3</text>
<text x="453.8" y="1227" font-size="35.8" text-anchor="end" stroke-width="0.86">1.2</text>
<text x="453.8" y="1346.3" font-size="35.8" text-anchor="end" stroke-width="0.86">1.1</text>
<text x="453.8" y="1463.6" font-size="35.8" text-anchor="end" stroke-width="0.86">1.0</text>
<text x="482.2" y="1572.4" font-size="35.8" text-anchor="middle" stroke-width="0.86">0</text>
<text x="610.2" y="1572.4" font-size="35.8" text-anchor="middle" stroke-width="0.86">100</text>
<text x="737.8" y="1572.4" font-size="35.8" text-anchor="middle" stroke-width="0.86">200</text>
<text x="866.5" y="1572.4" font-size="35.8" text-anchor="middle" stroke-width="0.86">300</text>
<text x="996.3" y="1572.4" font-size="35.8" text-anchor="middle" stroke-width="0.86">400</text>
<text x="1125.5" y="1572.4" font-size="35.8" text-anchor="middle" stroke-width="0.86">500</text>
<text x="1255" y="1572.4" font-size="35.8" text-anchor="middle" stroke-width="0.86">600</text>
<text x="382.5" y="1216.5" font-size="37" text-anchor="middle" transform="rotate(-90 382.5 1216.5)" stroke-width="0.89">CHD4 recruitment</text>
<text x="893.5" y="1633.5" font-size="41" text-anchor="middle" stroke-width="0.98">Time post-irradiation (sec)</text>
<rect x="511.5" y="844.5" width="26.8" height="26" fill="#909c9b"/>
<text x="551" y="869" font-size="33.5" stroke-width="0.8"><tspan font-style="italic">PARP1</tspan><tspan font-style="italic" dy="-9.5" font-size="26.5">KO</tspan></text>
<rect x="511.5" y="885.5" width="26.8" height="26" fill="#17161b"/>
<text x="551" y="908.8" font-size="33.5" stroke-width="0.8"><tspan font-style="italic">PARP1</tspan><tspan font-style="italic" dy="-9.5" font-size="26.5">KO</tspan><tspan dy="9.5" xml:space="preserve"> + mCh-PARP1 WT</tspan></text>
<rect x="511.5" y="926" width="26.8" height="26" fill="#fa1326"/>
<text x="551" y="950.5" font-size="33.5" stroke-width="0.8"><tspan font-style="italic">PARP1</tspan><tspan font-style="italic" dy="-9.5" font-size="26.5">KO</tspan><tspan dy="9.5" xml:space="preserve"> + mCh-PARP1 3SA</tspan></text>
<rect x="511.5" y="962.3" width="26.8" height="26" fill="#0d70f3"/>
<text x="551" y="989.7" font-size="33.5" stroke-width="0.8"><tspan font-style="italic">PARP1</tspan><tspan font-style="italic" dy="-9.5" font-size="26.5">KO</tspan><tspan dy="9.5" xml:space="preserve"> + mCh-PARP1 LW/AA</tspan></text>
<polyline points="524.2,2229.4 528.6,2210 535.8,2205.6 541.6,2198.4 548.8,2194 556.1,2189.7 564.8,2186.8 576.3,2189.7 587.9,2189.7 596.6,2186.8 608.2,2189.7 616.9,2185.9 625.6,2187.7 634.3,2184.8 645.8,2187.7 651.6,2185.4 660.3,2191.7 674.8,2191.1 683.5,2190.6 695.1,2192.6 705.2,2190.6 712.4,2193.5 726.9,2187.7 737,2189.7 742.8,2194 748.6,2188.2 755.9,2192.6 764.5,2187.7 771.8,2191.1 784.8,2192.6 790.6,2188.8 799.3,2192.6 810.9,2192.6 822.5,2190.6 828.2,2196.9 839.8,2188.2 845.6,2192.6 857.2,2187.7 860,2192.6 865.8,2198.4 877.4,2194 889,2193.5 896.2,2191.1 903.4,2198.4 909.2,2200.4 916.5,2194 928,2193.5 933.8,2195.5 939.6,2203.3 946.9,2196.9 952.1,2188.2 958.4,2198.4 964.2,2198.4 971.5,2195.5 981.6,2197.5 987.4,2201.3 993.2,2196.9 1001.9,2195.5 1006.2,2191.1 1013.5,2191.1 1025,2195.5 1033.7,2193.5 1045.3,2196.4 1062.7,2196.4 1074.3,2198.4 1084.4,2201.3 1091.6,2197.5 1097.4,2199 1106.1,2195.5 1114.8,2196.9 1122,2187.7 1127.8,2193.5 1135.1,2201.3 1139.4,2196.4 1164,2196.4 1169.8,2199 1178.5,2194 1184.3,2196.9 1195.9,2194 1203.1,2199 1214.7,2198.4 1221.9,2193.5 1229.2,2198.4 1239.9,2199" fill="none" stroke="#a6aba8" stroke-width="3.9" stroke-linejoin="round" stroke-linecap="round"/>
<polyline points="524.2,2229.4 528.6,2251.9 534.4,2225.9 541.6,2170.9 548.8,2121.7 556.1,2084 564.8,2049.3 573.5,2026.1 582.1,2005.8 590.8,1991.4 602.4,1976.9 614,1961 625.6,1947.9 634.3,1938.7 642.9,1936.3 648.7,1930 653.1,1932 658.9,1921.9 663.2,1924.2 669,1914.6 680.6,1910.3 692.2,1905.9 703.7,1899.3 712.4,1897.3 715.3,1899.3 726.9,1895.2 732.7,1894.4 744.3,1887.7 753,1887.1 764.5,1884.2 771.8,1884.8 781.9,1881.3 787.7,1881.9 799.3,1887.1 806.5,1881.9 810.9,1881.3 818.1,1876.1 825.4,1879 831.1,1879.9 836.9,1884.2 851.4,1884.8 858.6,1887.1 860,1887.7 871.6,1887.7 889,1895.2 894.7,1892.3 903.4,1892.3 920.8,1900.2 928,1900.2 933.8,1897.8 946.9,1905.9 958.4,1908 981.6,1908 1004.8,1919 1013.5,1913.2 1025,1923.9 1036.6,1919.6 1045.3,1926.2 1055.4,1932 1067,1932 1077.2,1939.2 1091.6,1940.1 1106.1,1945.9 1114.8,1947.9 1127.8,1947.9 1138,1952.3 1148.1,1956 1153.9,1950.8 1161.1,1955.2 1169.8,1961 1178.5,1964.4 1184.3,1961.8 1191.5,1961.8 1201.7,1969.6 1207.4,1967.3 1214.7,1967.3 1221.9,1976.3 1227.7,1982.7 1233.5,1980.6 1239.9,1983.5" fill="none" stroke="#0f0f12" stroke-width="3.9" stroke-linejoin="round" stroke-linecap="round"/>
<polyline points="524.2,2229.4 528.6,2254.8 534.4,2214.3 541.6,2153.5 548.8,2107.2 556.1,2075.3 564.8,2049.3 573.5,2031.9 582.1,2020.3 589.4,2004.4 596.6,2002.4 605.3,1991.4 614,1981.2 622.7,1974 629.9,1965.3 634.3,1956.6 645.8,1955.2 654.5,1946.5 664.7,1937.8 674.8,1936.9 682,1937.8 690.7,1930.6 699.4,1924.8 706.6,1926.2 712.4,1929.1 719.7,1922.5 728.4,1924.8 738.5,1920.4 748.6,1920.4 755.9,1927.1 764.5,1923.3 771.8,1924.2 779,1919.6 790.6,1927.1 797.8,1924.2 810.9,1930.6 816.7,1924.8 832.6,1932 839.8,1930 851.4,1933.5 858.6,1936.9 860,1937.8 871.6,1935.8 883.2,1943.6 889,1943.6 896.2,1940.1 906.3,1944.5 920.8,1950.8 928,1956.6 935.3,1953.7 946.9,1953.7 957,1962.4 964.2,1959.5 975.8,1964.4 981.6,1965.3 987.4,1969.6 994.6,1967.6 1001.9,1971.1 1007.7,1978.3 1014.9,1974.9 1022.1,1976.9 1030.8,1982.7 1036.6,1980.6 1048.2,1985.6 1059.8,1985.6 1067,1983.5 1072.8,1988.5 1078.6,1996.6 1084.4,1995.7 1091.6,1993.4 1104.7,2001.5 1110.4,1994.3 1116.2,1994.3 1122,2001.5 1127.8,1999.2 1135.1,2004.4 1139.4,2002.1 1148.1,2010.2 1153.9,2009.6 1159.7,2005 1166.9,2009.6 1174.1,2010.2 1179.9,2011.6 1184.3,2007.3 1191.5,2017.4 1195.9,2015.4 1203.1,2020.3 1210.3,2014.5 1217.6,2015.4 1224.8,2018.9 1233.5,2025.5 1239.9,2026.1" fill="none" stroke="#e8192f" stroke-width="3.9" stroke-linejoin="round" stroke-linecap="round"/>
<polyline points="524.2,2229.4 528.6,2249 534.4,2240.4 541.6,2223 548.8,2207.1 556.1,2196.9 564.8,2186.8 573.5,2178.1 580.7,2175.2 587.9,2179 595.2,2171.5 602.4,2169.4 608.2,2164.5 616.9,2157.8 625.6,2156.4 634.3,2154.9 641.5,2150 645.8,2153.5 654.5,2150 666.1,2150 674.8,2140.5 682,2144.8 689.3,2147.7 695.1,2140.5 706.6,2140.5 715.3,2139.6 724,2141.9 731.3,2134.7 737,2133.8 742.8,2132.7 748.6,2139 755.9,2136.7 764.5,2138.4 771.8,2140.5 780.5,2137.6 787.7,2141.3 793.5,2136.7 799.3,2141.9 810.9,2134.7 816.1,2141.9 822.5,2130.3 828.2,2137.6 839.8,2134.7 847.1,2136.7 854.3,2134.7 860,2136.7 868.7,2139 878.8,2141.9 884.6,2137.6 889,2142.5 896.2,2143.4 903.4,2150.6 909.2,2147.7 920.8,2147.7 932.4,2141.9 939.6,2155.8 946.9,2147.1 952.7,2147.1 958.4,2153.5 971.5,2153.5 981.6,2153.5 993.2,2156.4 1001.9,2155.8 1006.2,2153.5 1013.5,2161.6 1019.2,2153.5 1025,2153.5 1033.7,2159.3 1042.4,2162.2 1048.2,2159.3 1055.4,2158.7 1062.7,2160.7 1067,2158.7 1074.3,2161.6 1084.4,2161.6 1091.6,2159.3 1100.3,2158.7 1106.1,2159.3 1114.8,2163.6 1122,2166.5 1127.8,2161.6 1135.1,2161.6 1140.9,2164.5 1148.1,2164.5 1153.9,2161.6 1161.1,2169.4 1166.9,2166.5 1174.1,2167.4 1184.3,2174.3 1191.5,2169.4 1195.9,2169.4 1203.1,2174.3 1208.9,2171.5 1214.7,2164.5 1224.8,2173.8 1232.1,2169.4 1239.9,2175.2" fill="none" stroke="#1b72e8" stroke-width="3.9" stroke-linejoin="round" stroke-linecap="round"/>
<path d="M553.8 2079.7V2091.4M548.9 2079.7h9.8M548.9 2091.4h9.8M584.5 1981.2V2022.7M579.6 1981.2h9.8M579.6 2022.7h9.8M614.9 1931.1V1988.8M610 1931.1h9.8M610 1988.8h9.8M645.3 1904.5V1963.1M640.4 1904.5h9.8M640.4 1963.1h9.8M676.2 1891.5V1932.4M671.3 1891.5h9.8M671.3 1932.4h9.8M706.6 1875V1922.3M701.7 1875h9.8M701.7 1922.3h9.8M737.6 1866.9V1916.2M732.7 1866.9h9.8M732.7 1916.2h9.8M768.9 1858.8V1910.4M764 1858.8h9.8M764 1910.4h9.8M797.8 1861.6V1911.3M792.9 1861.6h9.8M792.9 1911.3h9.8M829.1 1856.7V1902.4M824.2 1856.7h9.8M824.2 1902.4h9.8M860 1864.5V1910.9M855.1 1864.5h9.8M855.1 1910.9h9.8M889.8 1869.8V1919.8M884.9 1869.8h9.8M884.9 1919.8h9.8M920.2 1875V1924.8M915.3 1875h9.8M915.3 1924.8h9.8M951.5 1877.9V1935.7M946.6 1877.9h9.8M946.6 1935.7h9.8M981.6 1877.9V1938.1M976.7 1877.9h9.8M976.7 1938.1h9.8M1012.9 1882.8V1944.4M1008 1882.8h9.8M1008 1944.4h9.8M1043 1890.9V1958M1038.1 1890.9h9.8M1038.1 1958h9.8M1073.7 1907.4V1966.1M1068.8 1907.4h9.8M1068.8 1966.1h9.8M1104.7 1912.3V1978.3M1099.8 1912.3h9.8M1099.8 1978.3h9.8M1135.1 1918.1V1984M1130.2 1918.1h9.8M1130.2 1984h9.8M1165.5 1926.2V1989.9M1160.6 1926.2h9.8M1160.6 1989.9h9.8M1195.9 1934V1996.3M1191 1934h9.8M1191 1996.3h9.8M1227.1 1955.2V2008.9M1222.2 1955.2h9.8M1222.2 2008.9h9.8M553.8 2079.7V2126M548.9 2079.7h9.8M548.9 2126h9.8M584.5 1984.6V2045.8M579.6 1984.6h9.8M579.6 2045.8h9.8M614.9 1960.4V2000.6M610 1960.4h9.8M610 2000.6h9.8M645.3 1933.6V1976.9M640.4 1933.6h9.8M640.4 1976.9h9.8M676.2 1916.1V1958.1M671.3 1916.1h9.8M671.3 1958.1h9.8M706.6 1902.2V1950.2M701.7 1902.2h9.8M701.7 1950.2h9.8M737.6 1894.2V1947.4M732.7 1894.2h9.8M732.7 1947.4h9.8M768.9 1900.3V1947.4M764 1900.3h9.8M764 1947.4h9.8M797.8 1895.2V1953.1M792.9 1895.2h9.8M792.9 1953.1h9.8M829.1 1902.8V1958.1M824.2 1902.8h9.8M824.2 1958.1h9.8M860 1910.3V1965.3M855.1 1910.3h9.8M855.1 1965.3h9.8M889.8 1917.6V1968.8M884.9 1917.6h9.8M884.9 1968.8h9.8M920.2 1924.3V1976.9M915.3 1924.3h9.8M915.3 1976.9h9.8M951.5 1930.4V1985M946.6 1930.4h9.8M946.6 1985h9.8M981.6 1937.8V1992.8M976.7 1937.8h9.8M976.7 1992.8h9.8M1012.9 1953.9V1997.7M1008 1953.9h9.8M1008 1997.7h9.8M1043 1960.9V2005.8M1038.1 1960.9h9.8M1038.1 2005.8h9.8M1073.7 1965.7V2013.7M1068.8 1965.7h9.8M1068.8 2013.7h9.8M1104.7 1976V2027M1099.8 1976h9.8M1099.8 2027h9.8M1135.1 1981.8V2027M1130.2 1981.8h9.8M1130.2 2027h9.8M1165.5 1987.8V2029.6M1160.6 1987.8h9.8M1160.6 2029.6h9.8M1195.9 1995.4V2035.4M1191 1995.4h9.8M1191 2035.4h9.8M1227.1 1997.8V2043.5M1222.2 1997.8h9.8M1222.2 2043.5h9.8M553.8 2191.1V2208.5M548.9 2191.1h9.8M548.9 2208.5h9.8M584.5 2165.1V2183.9M579.6 2165.1h9.8M579.6 2183.9h9.8M614.9 2147.1V2168M610 2147.1h9.8M610 2168h9.8M645.3 2143.4V2162.8M640.4 2143.4h9.8M640.4 2162.8h9.8M676.2 2133.8V2150M671.3 2133.8h9.8M671.3 2150h9.8M706.6 2130.9V2147.1M701.7 2130.9h9.8M701.7 2147.1h9.8M737.6 2125.4V2144.8M732.7 2125.4h9.8M732.7 2144.8h9.8M768.9 2130.9V2150M764 2130.9h9.8M764 2150h9.8M797.8 2133.8V2150M792.9 2133.8h9.8M792.9 2150h9.8M829.1 2130.9V2147.1M824.2 2130.9h9.8M824.2 2147.1h9.8M860 2128V2150M855.1 2128h9.8M855.1 2150h9.8M889.8 2133.8V2154.9M884.9 2133.8h9.8M884.9 2154.9h9.8M920.2 2135.6V2160.2M915.3 2135.6h9.8M915.3 2160.2h9.8M951.5 2135.6V2154.9M946.6 2135.6h9.8M946.6 2154.9h9.8M981.6 2143.9V2165.7M976.7 2143.9h9.8M976.7 2165.7h9.8M1012.9 2149.2V2170.9M1008 2149.2h9.8M1008 2170.9h9.8M1043 2146.8V2170.9M1038.1 2146.8h9.8M1038.1 2170.9h9.8M1073.7 2149.2V2173.2M1068.8 2149.2h9.8M1068.8 2173.2h9.8M1104.7 2146.8V2173.2M1099.8 2146.8h9.8M1099.8 2173.2h9.8M1135.1 2149.7V2170.9M1130.2 2149.7h9.8M1130.2 2170.9h9.8M1165.5 2157.8V2179.6M1160.6 2157.8h9.8M1160.6 2179.6h9.8M1195.9 2157.8V2179.6M1191 2157.8h9.8M1191 2179.6h9.8M1227.1 2160.2V2183.9M1222.2 2160.2h9.8M1222.2 2183.9h9.8M553.8 2175.2V2199.8M548.9 2175.2h9.8M548.9 2199.8h9.8M584.5 2181V2199.8M579.6 2181h9.8M579.6 2199.8h9.8M614.9 2173.2V2194.6M610 2173.2h9.8M610 2194.6h9.8M645.3 2175.2V2199.8M640.4 2175.2h9.8M640.4 2199.8h9.8M676.2 2179V2202.7M671.3 2179h9.8M671.3 2202.7h9.8M706.6 2179V2199.8M701.7 2179h9.8M701.7 2199.8h9.8M737.6 2181V2197.5M732.7 2181h9.8M732.7 2197.5h9.8M768.9 2179V2197.5M764 2179h9.8M764 2197.5h9.8M797.8 2183.9V2202.7M792.9 2183.9h9.8M792.9 2202.7h9.8M829.1 2186.8V2210.8M824.2 2186.8h9.8M824.2 2210.8h9.8M860 2176.1V2197.5M855.1 2176.1h9.8M855.1 2197.5h9.8M889.8 2181V2205.6M884.9 2181h9.8M884.9 2205.6h9.8M920.2 2183.9V2205.6M915.3 2183.9h9.8M915.3 2205.6h9.8M951.5 2179V2199.8M946.6 2179h9.8M946.6 2199.8h9.8M981.6 2183.9V2205.6M976.7 2183.9h9.8M976.7 2205.6h9.8M1012.9 2183.9V2199.8M1008 2183.9h9.8M1008 2199.8h9.8M1043 2186.8V2207.9M1038.1 2186.8h9.8M1038.1 2207.9h9.8M1073.7 2186.8V2210.8M1068.8 2186.8h9.8M1068.8 2210.8h9.8M1104.7 2183.9V2205.6M1099.8 2183.9h9.8M1099.8 2205.6h9.8M1135.1 2186.8V2213.4M1130.2 2186.8h9.8M1130.2 2213.4h9.8M1165.5 2186.8V2213.4M1160.6 2186.8h9.8M1160.6 2213.4h9.8M1195.9 2183.9V2205.6M1191 2183.9h9.8M1191 2205.6h9.8M1227.1 2189.1V2210.8M1222.2 2189.1h9.8M1222.2 2210.8h9.8" fill="none" stroke="#111" stroke-width="2.1"/>
<path d="M524.2 1796V2309.8M524.2 2279.4H1256.1M502.5 1842.8H524.2M502.5 1938.7H524.2M502.5 2037.1H524.2M502.5 2133.2H524.2M502.5 2229.4H524.2M645.3 2279.4V2309.8M768.9 2279.4V2309.8M889.9 2279.4V2309.8M1013.5 2279.4V2309.8M1135 2279.4V2309.8M1256.1 2279.4V2309.8" fill="none" stroke="#1a1a1a" stroke-width="2.2"/>
<text x="497" y="1858" font-size="36" text-anchor="end" stroke-width="0.86">1.8</text>
<text x="497" y="1953.9" font-size="36" text-anchor="end" stroke-width="0.86">1.6</text>
<text x="497" y="2052.3" font-size="36" text-anchor="end" stroke-width="0.86">1.4</text>
<text x="497" y="2148.4" font-size="36" text-anchor="end" stroke-width="0.86">1.2</text>
<text x="497" y="2244.6" font-size="36" text-anchor="end" stroke-width="0.86">1.0</text>
<text x="516.8" y="2357" font-size="36" text-anchor="middle" stroke-width="0.86">0</text>
<text x="640.5" y="2357" font-size="36" text-anchor="middle" stroke-width="0.86">100</text>
<text x="763.3" y="2357" font-size="36" text-anchor="middle" stroke-width="0.86">200</text>
<text x="885.8" y="2357" font-size="36" text-anchor="middle" stroke-width="0.86">300</text>
<text x="1008.3" y="2357" font-size="36" text-anchor="middle" stroke-width="0.86">400</text>
<text x="1133" y="2357" font-size="36" text-anchor="middle" stroke-width="0.86">500</text>
<text x="1254.9" y="2357" font-size="36" text-anchor="middle" stroke-width="0.86">600</text>
<text x="419" y="2037" font-size="41" text-anchor="middle" transform="rotate(-90 419 2037)" stroke-width="0.98">CHD7 recruitment</text>
<text x="904" y="2419" font-size="41" text-anchor="middle" stroke-width="0.98">Time post-irradiation (sec)</text>
<rect x="578.9" y="1696.7" width="26.6" height="26" fill="#909c9b"/>
<text x="623.4" y="1718.2" font-size="33.5" stroke-width="0.8"><tspan font-style="italic">PARP1</tspan><tspan font-style="italic" dy="-9.5" font-size="26.5">KO</tspan></text>
<rect x="578.9" y="1736.5" width="26.6" height="26" fill="#17161b"/>
<text x="623.4" y="1758" font-size="33.5" stroke-width="0.8"><tspan font-style="italic">PARP1</tspan><tspan font-style="italic" dy="-9.5" font-size="26.5">KO</tspan><tspan dy="9.5" xml:space="preserve"> + mCh-PARP1 WT</tspan></text>
<rect x="578.9" y="1777.6" width="26.6" height="26" fill="#fa1326"/>
<text x="623.4" y="1799" font-size="33.5" stroke-width="0.8"><tspan font-style="italic">PARP1</tspan><tspan font-style="italic" dy="-9.5" font-size="26.5">KO</tspan><tspan dy="9.5" xml:space="preserve"> + mCh-PARP1 3SA</tspan></text>
<rect x="578.9" y="1814.2" width="26.6" height="26" fill="#0d70f3"/>
<text x="623.4" y="1837.6" font-size="33.5" stroke-width="0.8"><tspan font-style="italic">PARP1</tspan><tspan font-style="italic" dy="-9.5" font-size="26.5">KO</tspan><tspan dy="9.5" xml:space="preserve"> + mCh-PARP1 LW/AA</tspan></text>
<path d="M1705.3 150.2L1705.3 64.8L1953.3 64.8L1953.3 82.9M1953.3 109L1953.3 89.2L2075 89.2L2075 398.5M1830.2 150.2L1830.2 113.9L1953.3 113.9L1953.3 128M1705.3 386.5L1705.3 157.2L1830.2 157.2L1830.2 175.5M1706.9 615.6L1706.9 628.9L2079.4 628.9L2079.4 603" fill="none" stroke="#262626" stroke-width="2"/>
<path d="M1706.6 415.7V459.1M1706.6 547V585.6" stroke="#111" stroke-width="1.9" stroke-dasharray="12.5 8" fill="none"/>
<path d="M1681.3 415.7h50.6M1681.3 585.6h50.6" stroke="#111" stroke-width="1.9" fill="none"/>
<rect x="1656.9" y="459.1" width="99" height="87.9" fill="#fff" stroke="#111" stroke-width="1.9"/>
<line x1="1656.9" y1="499.2" x2="1755.9" y2="499.2" stroke="#0c0c0c" stroke-width="7.6"/>
<path d="M1829.9 190.7V276.7M1829.9 389V435.3" stroke="#111" stroke-width="1.9" stroke-dasharray="12.5 8" fill="none"/>
<path d="M1804.6 190.7h50.6M1804.6 435.3h50.6" stroke="#111" stroke-width="1.9" fill="none"/>
<rect x="1780" y="276.7" width="99.3" height="112.3" fill="#b4bab8" stroke="#111" stroke-width="1.9"/>
<line x1="1780" y1="351" x2="1879.3" y2="351" stroke="#0c0c0c" stroke-width="7.6"/>
<path d="M1953.3 144.8V256.8M1953.3 395.3V478.7" stroke="#111" stroke-width="1.9" stroke-dasharray="12.5 8" fill="none"/>
<path d="M1928 144.8h50.6M1928 478.7h50.6" stroke="#111" stroke-width="1.9" fill="none"/>
<rect x="1903.6" y="256.8" width="99" height="138.5" fill="#fff" stroke="#111" stroke-width="1.9"/>
<line x1="1903.6" y1="329.5" x2="2002.6" y2="329.5" stroke="#0c0c0c" stroke-width="7.6"/>
<path d="M2076.6 421.1V430M2076.6 465.1V480.3" stroke="#111" stroke-width="1.9" stroke-dasharray="12.5 8" fill="none"/>
<path d="M2051.3 421.1h50.6M2051.3 480.3h50.6" stroke="#111" stroke-width="1.9" fill="none"/>
<rect x="2026.6" y="430" width="99.3" height="35.1" fill="#b4bab8" stroke="#111" stroke-width="1.9"/>
<line x1="2026.6" y1="442.6" x2="2125.9" y2="442.6" stroke="#0c0c0c" stroke-width="7.6"/>
<path d="M1825.9 191.3a4 4 0 1 0 8 0a4 4 0 1 0 -8 0M1825.9 207.1a4 4 0 1 0 8 0a4 4 0 1 0 -8 0M1825.9 237.8a4 4 0 1 0 8 0a4 4 0 1 0 -8 0M1825.9 253.6a4 4 0 1 0 8 0a4 4 0 1 0 -8 0M1825.9 299.5a4 4 0 1 0 8 0a4 4 0 1 0 -8 0M1825.9 317.8a4 4 0 1 0 8 0a4 4 0 1 0 -8 0M1825.9 336.8a4 4 0 1 0 8 0a4 4 0 1 0 -8 0M1825.9 351a4 4 0 1 0 8 0a4 4 0 1 0 -8 0M1831.6 351a4 4 0 1 0 8 0a4 4 0 1 0 -8 0M1825.9 365.9a4 4 0 1 0 8 0a4 4 0 1 0 -8 0M1949.3 144.8a4 4 0 1 0 8 0a4 4 0 1 0 -8 0M1949.3 171.4a4 4 0 1 0 8 0a4 4 0 1 0 -8 0M1949.3 225.2a4 4 0 1 0 8 0a4 4 0 1 0 -8 0M1952.4 253.6a4 4 0 1 0 8 0a4 4 0 1 0 -8 0M1949.3 260a4 4 0 1 0 8 0a4 4 0 1 0 -8 0M1949.3 303a4 4 0 1 0 8 0a4 4 0 1 0 -8 0M1952.4 316.3a4 4 0 1 0 8 0a4 4 0 1 0 -8 0M1949.3 322.6a4 4 0 1 0 8 0a4 4 0 1 0 -8 0M1949.3 335.9a4 4 0 1 0 8 0a4 4 0 1 0 -8 0M1949.3 369.4a4 4 0 1 0 8 0a4 4 0 1 0 -8 0M1702.6 415.7a4 4 0 1 0 8 0a4 4 0 1 0 -8 0M1702.6 439.1a4 4 0 1 0 8 0a4 4 0 1 0 -8 0M1702.6 455.9a4 4 0 1 0 8 0a4 4 0 1 0 -8 0M1702.6 463.8a4 4 0 1 0 8 0a4 4 0 1 0 -8 0M1702.6 492.3a4 4 0 1 0 8 0a4 4 0 1 0 -8 0M1708.3 497.6a4 4 0 1 0 8 0a4 4 0 1 0 -8 0M1702.6 500.8a4 4 0 1 0 8 0a4 4 0 1 0 -8 0M1702.6 511.9a4 4 0 1 0 8 0a4 4 0 1 0 -8 0M1702.6 530.9a4 4 0 1 0 8 0a4 4 0 1 0 -8 0M1702.6 563.4a4 4 0 1 0 8 0a4 4 0 1 0 -8 0M1706.7 580.8a4 4 0 1 0 8 0a4 4 0 1 0 -8 0M1702.6 585.6a4 4 0 1 0 8 0a4 4 0 1 0 -8 0M1830 386.3a4 4 0 1 0 8 0a4 4 0 1 0 -8 0M1825.9 392a4 4 0 1 0 8 0a4 4 0 1 0 -8 0M1825.9 409.1a4 4 0 1 0 8 0a4 4 0 1 0 -8 0M1825.9 424.3a4 4 0 1 0 8 0a4 4 0 1 0 -8 0M1825.9 435.3a4 4 0 1 0 8 0a4 4 0 1 0 -8 0M1954.3 383.2a4 4 0 1 0 8 0a4 4 0 1 0 -8 0M1949.3 386.3a4 4 0 1 0 8 0a4 4 0 1 0 -8 0M1949.3 404.4a4 4 0 1 0 8 0a4 4 0 1 0 -8 0M1949.3 432.2a4 4 0 1 0 8 0a4 4 0 1 0 -8 0M1949.3 443.3a4 4 0 1 0 8 0a4 4 0 1 0 -8 0M1949.3 478.7a4 4 0 1 0 8 0a4 4 0 1 0 -8 0M2078.9 421.1a4 4 0 1 0 8 0a4 4 0 1 0 -8 0M2072.6 424.3a4 4 0 1 0 8 0a4 4 0 1 0 -8 0M2065.6 430a4 4 0 1 0 8 0a4 4 0 1 0 -8 0M2076.7 430a4 4 0 1 0 8 0a4 4 0 1 0 -8 0M2072.6 436.9a4 4 0 1 0 8 0a4 4 0 1 0 -8 0M2072.6 448a4 4 0 1 0 8 0a4 4 0 1 0 -8 0M2072.6 456.9a4 4 0 1 0 8 0a4 4 0 1 0 -8 0M2072.6 465.4a4 4 0 1 0 8 0a4 4 0 1 0 -8 0M2072.6 480.6a4 4 0 1 0 8 0a4 4 0 1 0 -8 0M2078.9 479a4 4 0 1 0 8 0a4 4 0 1 0 -8 0M2072.6 562.8a4 4 0 1 0 8 0a4 4 0 1 0 -8 0" fill="none" stroke="#111" stroke-width="2"/>
<text x="1606" y="133.3" font-size="33" text-anchor="end" stroke-width="0.79">1.3</text>
<text x="1606" y="308.8" font-size="33" text-anchor="end" stroke-width="0.79">1.2</text>
<text x="1606" y="484.2" font-size="33" text-anchor="end" stroke-width="0.79">1.1</text>
<text x="1606" y="661" font-size="33" text-anchor="end" stroke-width="0.79">1.0</text>
<path d="M1637 128.1V655.8H2137.6M1613 655.8H1637M1613 128.1H1637M1613 303.6H1637M1613 479H1637M1613 655.8H1637M1713.8 655.8V678.9M1830.9 655.8V678.9M1947.2 655.8V678.9M2064.3 655.8V678.9" fill="none" stroke="#1a1a1a" stroke-width="2"/>
<text x="1786.6" y="58.5" font-size="17.2" stroke-width="0.45" xml:space="preserve">p=2.46x10<tspan dx="0.6" dy="-12" font-size="17.2">-6</tspan></text>
<text x="1971.6" y="78.1" font-size="17.2" stroke-width="0.45" xml:space="preserve">p=8.85 x10<tspan dx="0.6" dy="-12" font-size="17.2">-5</tspan></text>
<text x="1853" y="106" font-size="17.2" stroke-width="0.41">p=0.9029</text>
<text x="1716.4" y="149.6" font-size="17.2" stroke-width="0.45" xml:space="preserve">p=5.14 x10<tspan dx="0.6" dy="-12" font-size="17.2">-5</tspan></text>
<text x="1854.6" y="622.9" font-size="17.2" stroke-width="0.41">p=0.0206</text>
<text x="1527" y="394.5" font-size="37" text-anchor="middle" transform="rotate(-90 1527 394.5)" stroke-width="0.89">E4F1 recruitment</text>
<text x="1718.3" y="717.8" font-size="33.2" text-anchor="middle" stroke-width="0.80">Ø</text>
<text x="1833.5" y="717.8" font-size="33.2" text-anchor="middle" stroke-width="0.80">WT</text>
<text x="1951.2" y="717.8" font-size="33.2" text-anchor="middle" stroke-width="0.80">3SA</text>
<text x="2062.8" y="717.8" font-size="33.2" text-anchor="middle" stroke-width="0.80">LW/AA</text>
<text x="1466" y="722.7" font-size="33.2" stroke-width="0.80">mCh-PARP1</text>
<text x="1494" y="769.7" font-size="33.4" stroke-width="0.80">Genotype</text>
<line x1="1683.8" y1="733.6" x2="2098.7" y2="733.6" stroke="#1a181b" stroke-width="2.3"/>
<text x="1823" y="775.3" font-size="32.5" font-style="italic" stroke-width="0.8">PARP1<tspan dy="-11" font-size="27">KO</tspan></text>
<path d="M1562.9 1257.6L1562.9 978.6L1668.8 978.6L1668.8 1004.3M1668.8 966.2L1668.8 940.2L1774 940.2L1774 1117.2M1668.8 919.5L1668.8 890L1873.3 890L1873.3 1144.6M1873.3 1184L1873.3 1165.7L1977.5 1165.7L1977.5 1226.8" fill="none" stroke="#262626" stroke-width="2"/>
<path d="M1565.2 1281.1V1301.8M1565.2 1368.6V1406" stroke="#111" stroke-width="1.9" stroke-dasharray="11 7" fill="none"/>
<path d="M1544 1281.1h42.4M1544 1406h42.4" stroke="#111" stroke-width="1.9" fill="none"/>
<rect x="1524.1" y="1301.8" width="82.6" height="66.8" fill="#fff" stroke="#111" stroke-width="1.9"/>
<line x1="1524.1" y1="1336.9" x2="1606.7" y2="1336.9" stroke="#0c0c0c" stroke-width="7.4"/>
<path d="M1668.1 1022V1112.6M1668.1 1234.8V1320.2" stroke="#111" stroke-width="1.9" stroke-dasharray="11 7" fill="none"/>
<path d="M1646.9 1022h42.4M1646.9 1320.2h42.4" stroke="#111" stroke-width="1.9" fill="none"/>
<rect x="1626.7" y="1112.6" width="82.5" height="122.2" fill="#b4bab8" stroke="#111" stroke-width="1.9"/>
<line x1="1626.7" y1="1175.7" x2="1709.2" y2="1175.7" stroke="#0c0c0c" stroke-width="7.4"/>
<path d="M1770.7 1154V1169.4M1770.7 1278.4V1384.3" stroke="#111" stroke-width="1.9" stroke-dasharray="11 7" fill="none"/>
<path d="M1749.5 1154h42.4M1749.5 1384.3h42.4" stroke="#111" stroke-width="1.9" fill="none"/>
<rect x="1729.6" y="1169.4" width="82.2" height="109" fill="#fff" stroke="#111" stroke-width="1.9"/>
<line x1="1729.6" y1="1221.5" x2="1811.8" y2="1221.5" stroke="#0c0c0c" stroke-width="7.4"/>
<path d="M1873.3 1280.6V1286.1M1873.3 1332.9V1378.6" stroke="#111" stroke-width="1.9" stroke-dasharray="11 7" fill="none"/>
<path d="M1852.1 1280.6h42.4M1852.1 1378.6h42.4" stroke="#111" stroke-width="1.9" fill="none"/>
<rect x="1832.2" y="1286.1" width="82.5" height="46.8" fill="#b4bab8" stroke="#111" stroke-width="1.9"/>
<line x1="1832.2" y1="1298.5" x2="1914.7" y2="1298.5" stroke="#0c0c0c" stroke-width="7.4"/>
<path d="M1976.2 1248.4V1303.5M1976.2 1367V1410.7" stroke="#111" stroke-width="1.9" stroke-dasharray="11 7" fill="none"/>
<path d="M1955 1248.4h42.4M1955 1410.7h42.4" stroke="#111" stroke-width="1.9" fill="none"/>
<rect x="1934.7" y="1303.5" width="82.5" height="63.5" fill="#fff" stroke="#111" stroke-width="1.9"/>
<line x1="1934.7" y1="1341.2" x2="2017.2" y2="1341.2" stroke="#0c0c0c" stroke-width="7.4"/>
<path d="M1664.1 1022a4 4 0 1 0 8 0a4 4 0 1 0 -8 0M1664.1 1068.8a4 4 0 1 0 8 0a4 4 0 1 0 -8 0M1664.1 1082.2a4 4 0 1 0 8 0a4 4 0 1 0 -8 0M1664.1 1143.3a4 4 0 1 0 8 0a4 4 0 1 0 -8 0M1671.5 1173.4a4 4 0 1 0 8 0a4 4 0 1 0 -8 0M1664.1 1175.7a4 4 0 1 0 8 0a4 4 0 1 0 -8 0M1664.1 1186.7a4 4 0 1 0 8 0a4 4 0 1 0 -8 0M1664.1 1201.4a4 4 0 1 0 8 0a4 4 0 1 0 -8 0M1766.7 1154a4 4 0 1 0 8 0a4 4 0 1 0 -8 0M1766.7 1169a4 4 0 1 0 8 0a4 4 0 1 0 -8 0M1775 1175.7a4 4 0 1 0 8 0a4 4 0 1 0 -8 0M1766.7 1177.4a4 4 0 1 0 8 0a4 4 0 1 0 -8 0M1775 1220.8a4 4 0 1 0 8 0a4 4 0 1 0 -8 0M1766.7 1224.8a4 4 0 1 0 8 0a4 4 0 1 0 -8 0M1869.3 1200.1a4 4 0 1 0 8 0a4 4 0 1 0 -8 0M1561.2 1281.1a4 4 0 1 0 8 0a4 4 0 1 0 -8 0M1558.9 1294.1a4 4 0 1 0 8 0a4 4 0 1 0 -8 0M1562.9 1301.8a4 4 0 1 0 8 0a4 4 0 1 0 -8 0M1561.2 1310.2a4 4 0 1 0 8 0a4 4 0 1 0 -8 0M1567.2 1333.5a4 4 0 1 0 8 0a4 4 0 1 0 -8 0M1561.2 1339.2a4 4 0 1 0 8 0a4 4 0 1 0 -8 0M1561.2 1354.3a4 4 0 1 0 8 0a4 4 0 1 0 -8 0M1561.2 1369.3a4 4 0 1 0 8 0a4 4 0 1 0 -8 0M1561.2 1384.3a4 4 0 1 0 8 0a4 4 0 1 0 -8 0M1561.2 1406a4 4 0 1 0 8 0a4 4 0 1 0 -8 0M1663.8 1267.7a4 4 0 1 0 8 0a4 4 0 1 0 -8 0M1663.8 1297.5a4 4 0 1 0 8 0a4 4 0 1 0 -8 0M1663.8 1320.2a4 4 0 1 0 8 0a4 4 0 1 0 -8 0M1766.7 1261a4 4 0 1 0 8 0a4 4 0 1 0 -8 0M1766.7 1278.4a4 4 0 1 0 8 0a4 4 0 1 0 -8 0M1766.7 1320.8a4 4 0 1 0 8 0a4 4 0 1 0 -8 0M1766.7 1354.6a4 4 0 1 0 8 0a4 4 0 1 0 -8 0M1766.7 1384.3a4 4 0 1 0 8 0a4 4 0 1 0 -8 0M1871.9 1280.8a4 4 0 1 0 8 0a4 4 0 1 0 -8 0M1864.2 1285.8a4 4 0 1 0 8 0a4 4 0 1 0 -8 0M1869.3 1292.8a4 4 0 1 0 8 0a4 4 0 1 0 -8 0M1877.6 1292.8a4 4 0 1 0 8 0a4 4 0 1 0 -8 0M1873.6 1303.5a4 4 0 1 0 8 0a4 4 0 1 0 -8 0M1869.3 1311.2a4 4 0 1 0 8 0a4 4 0 1 0 -8 0M1869.3 1332.9a4 4 0 1 0 8 0a4 4 0 1 0 -8 0M1869.3 1364.6a4 4 0 1 0 8 0a4 4 0 1 0 -8 0M1869.3 1378.6a4 4 0 1 0 8 0a4 4 0 1 0 -8 0M1977.8 1248.4a4 4 0 1 0 8 0a4 4 0 1 0 -8 0M1972.2 1255.7a4 4 0 1 0 8 0a4 4 0 1 0 -8 0M1972.2 1291.8a4 4 0 1 0 8 0a4 4 0 1 0 -8 0M1972.2 1316.2a4 4 0 1 0 8 0a4 4 0 1 0 -8 0M1972.2 1325.2a4 4 0 1 0 8 0a4 4 0 1 0 -8 0M1970.5 1340.2a4 4 0 1 0 8 0a4 4 0 1 0 -8 0M1976.2 1346.9a4 4 0 1 0 8 0a4 4 0 1 0 -8 0M1972.2 1354.6a4 4 0 1 0 8 0a4 4 0 1 0 -8 0M1972.2 1379.6a4 4 0 1 0 8 0a4 4 0 1 0 -8 0M1979.5 1406.4a4 4 0 1 0 8 0a4 4 0 1 0 -8 0M1972.2 1410.7a4 4 0 1 0 8 0a4 4 0 1 0 -8 0" fill="none" stroke="#111" stroke-width="2"/>
<text x="1474.3" y="974.6" font-size="32.2" text-anchor="end" stroke-width="0.77">1.5</text>
<text x="1474.3" y="1074.2" font-size="32.2" text-anchor="end" stroke-width="0.77">1.4</text>
<text x="1474.3" y="1173.4" font-size="32.2" text-anchor="end" stroke-width="0.77">1.3</text>
<text x="1474.3" y="1272.4" font-size="32.2" text-anchor="end" stroke-width="0.77">1.2</text>
<text x="1474.3" y="1371.3" font-size="32.2" text-anchor="end" stroke-width="0.77">1.1</text>
<text x="1474.3" y="1470.5" font-size="32.2" text-anchor="end" stroke-width="0.77">1.0</text>
<path d="M1489.4 966.9V1483.9H1976.8M1478.4 966.9H1489.4M1478.4 1066.5H1489.4M1478.4 1165.7H1489.4M1478.4 1264.7H1489.4M1478.4 1363.6H1489.4M1478.4 1462.8H1489.4M1565.2 1483.9V1495.6M1667.8 1483.9V1495.6M1770.7 1483.9V1495.6M1873.3 1483.9V1495.6M1976.2 1483.9V1495.6" fill="none" stroke="#1a1a1a" stroke-width="2"/>
<text x="1570.9" y="969.6" font-size="17.2" stroke-width="0.41">p=0.00015</text>
<text x="1687.8" y="931.2" font-size="17.2" stroke-width="0.41">p=0.7226</text>
<text x="1734.6" y="881.7" font-size="17.2" stroke-width="0.41">p=0.0002</text>
<text x="1893.3" y="1157.3" font-size="17.2" stroke-width="0.41">p=0.2034</text>
<text x="1384.3" y="1216.5" font-size="40.8" text-anchor="middle" transform="rotate(-90 1384.3 1216.5)" stroke-width="0.98">CHD4 recruitment</text>
<text x="1566.4" y="1534.7" font-size="33.2" text-anchor="middle" stroke-width="0.80">Ø</text>
<text x="1674.3" y="1534.7" font-size="33.2" text-anchor="middle" stroke-width="0.80">WT</text>
<text x="1778.2" y="1534.7" font-size="33.2" text-anchor="middle" stroke-width="0.80">3SA</text>
<text x="1880.3" y="1534.7" font-size="33.2" text-anchor="middle" stroke-width="0.80">LW/AA</text>
<text x="1978.3" y="1534.7" font-size="33.2" text-anchor="middle" stroke-width="0.80">WT</text>
<text x="1332.5" y="1539.7" font-size="33.2" stroke-width="0.80">mCh-PARP1</text>
<text x="1361" y="1582.4" font-size="33.4" stroke-width="0.80">Genotype</text>
<line x1="1549.5" y1="1547.4" x2="1915" y2="1547.4" stroke="#1a181b" stroke-width="2.3"/>
<line x1="1945.1" y1="1547.4" x2="2027.9" y2="1547.4" stroke="#1a181b" stroke-width="2.3"/>
<text x="1681.5" y="1590.1" font-size="32.5" font-style="italic" stroke-width="0.8">PARP1<tspan dy="-11" font-size="27">KO</tspan></text>
<text x="1886" y="1590.1" font-size="32.5" font-style="italic" stroke-width="0.8" xml:space="preserve">PARP1<tspan dy="-11" font-size="27">KO</tspan><tspan dy="11"> HPF1</tspan><tspan dy="-11" font-size="27">KO</tspan></text>
<path d="M1572.2 2126.1L1572.2 1773.4L1678.4 1773.4L1678.4 1785.8M1676.3 1763.7L1676.3 1741.3L1784.6 1741.3L1784.6 1801.2M1675.6 1731.7L1675.6 1706L1893.7 1706L1893.7 2009.6M1893.7 2094.4L1893.7 2021.4L2004.1 2021.4L2004.1 2035.3" fill="none" stroke="#262626" stroke-width="2"/>
<path d="M1569.4 2149.7V2175.7M1569.4 2243.8V2262" stroke="#111" stroke-width="2.7" stroke-dasharray="9 6" fill="none"/>
<path d="M1546.9 2149.7h45M1546.9 2262h45" stroke="#111" stroke-width="2.7" fill="none"/>
<rect x="1525.6" y="2175.7" width="87.6" height="68.1" fill="#fff" stroke="#111" stroke-width="2.7"/>
<line x1="1525.6" y1="2220.6" x2="1613.2" y2="2220.6" stroke="#0c0c0c" stroke-width="8.6"/>
<path d="M1677.7 1801.9V1817.2M1677.7 2012.1V2123.1" stroke="#111" stroke-width="2.7" stroke-dasharray="9 6" fill="none"/>
<path d="M1655.2 1801.9h45M1655.2 2123.1h45" stroke="#111" stroke-width="2.7" fill="none"/>
<rect x="1634.3" y="1817.2" width="87.3" height="194.9" fill="#b4bab8" stroke="#111" stroke-width="2.7"/>
<line x1="1634.3" y1="1886" x2="1721.6" y2="1886" stroke="#0c0c0c" stroke-width="8.6"/>
<path d="M1786.1 1813.3V1882M1786.1 2021.4V2080.9" stroke="#111" stroke-width="2.7" stroke-dasharray="9 6" fill="none"/>
<path d="M1763.6 1813.3h45M1763.6 2080.9h45" stroke="#111" stroke-width="2.7" fill="none"/>
<rect x="1742.2" y="1882" width="87.7" height="139.4" fill="#fff" stroke="#111" stroke-width="2.7"/>
<line x1="1742.2" y1="1924.1" x2="1829.9" y2="1924.1" stroke="#0c0c0c" stroke-width="8.6"/>
<path d="M1894 2116.6V2135.8M1894 2179.6V2209.2" stroke="#111" stroke-width="2.7" stroke-dasharray="9 6" fill="none"/>
<path d="M1871.5 2116.6h45M1871.5 2209.2h45" stroke="#111" stroke-width="2.7" fill="none"/>
<rect x="1850.9" y="2135.8" width="87.3" height="43.8" fill="#b4bab8" stroke="#111" stroke-width="2.7"/>
<line x1="1850.9" y1="2169.7" x2="1938.2" y2="2169.7" stroke="#0c0c0c" stroke-width="8.6"/>
<path d="M2002.7 2048.2V2080.9M2002.7 2133.3V2155.8" stroke="#111" stroke-width="2.7" stroke-dasharray="9 6" fill="none"/>
<path d="M1980.2 2048.2h45M1980.2 2155.8h45" stroke="#111" stroke-width="2.7" fill="none"/>
<rect x="1958.9" y="2080.9" width="87.7" height="52.4" fill="#fff" stroke="#111" stroke-width="2.7"/>
<line x1="1958.9" y1="2108.7" x2="2046.6" y2="2108.7" stroke="#0c0c0c" stroke-width="8.6"/>
<path d="M1673.7 1801.9a4 4 0 1 0 8 0a4 4 0 1 0 -8 0M1665.2 1814.7a4 4 0 1 0 8 0a4 4 0 1 0 -8 0M1679.8 1815.4a4 4 0 1 0 8 0a4 4 0 1 0 -8 0M1673.7 1819.7a4 4 0 1 0 8 0a4 4 0 1 0 -8 0M1673.7 1853.5a4 4 0 1 0 8 0a4 4 0 1 0 -8 0M1678.7 1884.9a4 4 0 1 0 8 0a4 4 0 1 0 -8 0M1673.7 1892a4 4 0 1 0 8 0a4 4 0 1 0 -8 0M1678 2006.1a4 4 0 1 0 8 0a4 4 0 1 0 -8 0M1673.7 2016.7a4 4 0 1 0 8 0a4 4 0 1 0 -8 0M1673.7 2042.4a4 4 0 1 0 8 0a4 4 0 1 0 -8 0M1673.7 2122.9a4 4 0 1 0 8 0a4 4 0 1 0 -8 0M1782.1 1813.3a4 4 0 1 0 8 0a4 4 0 1 0 -8 0M1782.1 1835.7a4 4 0 1 0 8 0a4 4 0 1 0 -8 0M1788.1 1851a4 4 0 1 0 8 0a4 4 0 1 0 -8 0M1782.1 1864.2a4 4 0 1 0 8 0a4 4 0 1 0 -8 0M1772.4 1882.4a4 4 0 1 0 8 0a4 4 0 1 0 -8 0M1791.7 1883.1a4 4 0 1 0 8 0a4 4 0 1 0 -8 0M1782.1 1886.7a4 4 0 1 0 8 0a4 4 0 1 0 -8 0M1786.3 1908.1a4 4 0 1 0 8 0a4 4 0 1 0 -8 0M1782.1 1924.1a4 4 0 1 0 8 0a4 4 0 1 0 -8 0M1782.1 1950.8a4 4 0 1 0 8 0a4 4 0 1 0 -8 0M1782.1 1978.3a4 4 0 1 0 8 0a4 4 0 1 0 -8 0M1785.6 2009.6a4 4 0 1 0 8 0a4 4 0 1 0 -8 0M1782.1 2021.4a4 4 0 1 0 8 0a4 4 0 1 0 -8 0M1787.4 2035.3a4 4 0 1 0 8 0a4 4 0 1 0 -8 0M1782.1 2042.8a4 4 0 1 0 8 0a4 4 0 1 0 -8 0M1783.8 2066.6a4 4 0 1 0 8 0a4 4 0 1 0 -8 0M1782.1 2080.9a4 4 0 1 0 8 0a4 4 0 1 0 -8 0M1570.7 2149.7a4 4 0 1 0 8 0a4 4 0 1 0 -8 0M1565.4 2156.5a4 4 0 1 0 8 0a4 4 0 1 0 -8 0M1575.4 2172.5a4 4 0 1 0 8 0a4 4 0 1 0 -8 0M1565.4 2175.7a4 4 0 1 0 8 0a4 4 0 1 0 -8 0M1571.1 2194.6a4 4 0 1 0 8 0a4 4 0 1 0 -8 0M1565.4 2200a4 4 0 1 0 8 0a4 4 0 1 0 -8 0M1574.7 2220.6a4 4 0 1 0 8 0a4 4 0 1 0 -8 0M1565.4 2224.2a4 4 0 1 0 8 0a4 4 0 1 0 -8 0M1553.3 2234.5a4 4 0 1 0 8 0a4 4 0 1 0 -8 0M1557.6 2245.2a4 4 0 1 0 8 0a4 4 0 1 0 -8 0M1567.2 2245.2a4 4 0 1 0 8 0a4 4 0 1 0 -8 0M1577.2 2243.8a4 4 0 1 0 8 0a4 4 0 1 0 -8 0M1565.4 2262a4 4 0 1 0 8 0a4 4 0 1 0 -8 0M1890 2116.6a4 4 0 1 0 8 0a4 4 0 1 0 -8 0M1876.5 2132.2a4 4 0 1 0 8 0a4 4 0 1 0 -8 0M1885.4 2133.3a4 4 0 1 0 8 0a4 4 0 1 0 -8 0M1896.8 2139.4a4 4 0 1 0 8 0a4 4 0 1 0 -8 0M1890 2141.2a4 4 0 1 0 8 0a4 4 0 1 0 -8 0M1890 2163.6a4 4 0 1 0 8 0a4 4 0 1 0 -8 0M1877.2 2176.8a4 4 0 1 0 8 0a4 4 0 1 0 -8 0M1887.2 2176.8a4 4 0 1 0 8 0a4 4 0 1 0 -8 0M1896.8 2183.2a4 4 0 1 0 8 0a4 4 0 1 0 -8 0M1890 2188.2a4 4 0 1 0 8 0a4 4 0 1 0 -8 0M1890 2209.2a4 4 0 1 0 8 0a4 4 0 1 0 -8 0M1994.1 2048.5a4 4 0 1 0 8 0a4 4 0 1 0 -8 0M2004.1 2048.5a4 4 0 1 0 8 0a4 4 0 1 0 -8 0M1996.9 2061a4 4 0 1 0 8 0a4 4 0 1 0 -8 0M1999.4 2073.5a4 4 0 1 0 8 0a4 4 0 1 0 -8 0M1998.7 2088.4a4 4 0 1 0 8 0a4 4 0 1 0 -8 0M1979.8 2108.4a4 4 0 1 0 8 0a4 4 0 1 0 -8 0M1988.7 2108.4a4 4 0 1 0 8 0a4 4 0 1 0 -8 0M1998.7 2112.7a4 4 0 1 0 8 0a4 4 0 1 0 -8 0M2008.3 2108.4a4 4 0 1 0 8 0a4 4 0 1 0 -8 0M2017.2 2107.3a4 4 0 1 0 8 0a4 4 0 1 0 -8 0M1994.1 2129.8a4 4 0 1 0 8 0a4 4 0 1 0 -8 0M2003 2135.8a4 4 0 1 0 8 0a4 4 0 1 0 -8 0M1994.1 2141.2a4 4 0 1 0 8 0a4 4 0 1 0 -8 0M1998.7 2155.8a4 4 0 1 0 8 0a4 4 0 1 0 -8 0M2008.3 2154.7a4 4 0 1 0 8 0a4 4 0 1 0 -8 0" fill="none" stroke="#111" stroke-width="2.1"/>
<text x="1460.7" y="1781.9" font-size="33" text-anchor="end" stroke-width="0.79">2.0</text>
<text x="1460.7" y="1879.2" font-size="33" text-anchor="end" stroke-width="0.79">1.8</text>
<text x="1460.7" y="1976.1" font-size="33" text-anchor="end" stroke-width="0.79">1.6</text>
<text x="1460.7" y="2072.2" font-size="33" text-anchor="end" stroke-width="0.79">1.4</text>
<text x="1460.7" y="2169.3" font-size="33" text-anchor="end" stroke-width="0.79">1.2</text>
<text x="1460.7" y="2266.2" font-size="33" text-anchor="end" stroke-width="0.79">1.0</text>
<path d="M1493.9 1767.3V2271.2H2003.1M1476 1767.3H1493.9M1476 1864.6H1493.9M1476 1961.5H1493.9M1476 2057.6H1493.9M1476 2154.7H1493.9M1476 2251.6H1493.9M1569.4 2271.2V2285.5M1677.7 2271.2V2285.5M1786.1 2271.2V2285.5M1894 2271.2V2285.5M2002.7 2271.2V2285.5" fill="none" stroke="#1a1a1a" stroke-width="2"/>
<text x="1574" y="1767.3" font-size="17.2" stroke-width="0.45" xml:space="preserve">p=2.65x10<tspan dx="0.6" dy="-12" font-size="17.2">-6</tspan></text>
<text x="1693.4" y="1734.2" font-size="17.2" stroke-width="0.41">p=0.4972</text>
<text x="1732.6" y="1697.8" font-size="17.2" stroke-width="0.45" xml:space="preserve">p=1.889x10<tspan dx="0.6" dy="-12" font-size="17.2">-5</tspan></text>
<text x="1906.1" y="2013.2" font-size="17.2" stroke-width="0.41">p=0.00012</text>
<text x="1394.5" y="2023" font-size="40.8" text-anchor="middle" transform="rotate(-90 1394.5 2023)" stroke-width="0.98">CHD7 recruitment</text>
<text x="1561.5" y="2322.2" font-size="33.2" text-anchor="middle" stroke-width="0.80">Ø</text>
<text x="1665.5" y="2322.2" font-size="33.2" text-anchor="middle" stroke-width="0.80">WT</text>
<text x="1767.8" y="2322.2" font-size="33.2" text-anchor="middle" stroke-width="0.80">3SA</text>
<text x="1877.3" y="2322.2" font-size="33.2" text-anchor="middle" stroke-width="0.80">LW/AA</text>
<text x="1987.7" y="2322.2" font-size="33.2" text-anchor="middle" stroke-width="0.80">WT</text>
<text x="1320.5" y="2327.2" font-size="33.2" stroke-width="0.80">mCh-PARP1</text>
<text x="1345.5" y="2364.5" font-size="33.4" stroke-width="0.80">Genotype</text>
<line x1="1537.3" y1="2333.6" x2="1932.2" y2="2333.6" stroke="#1a181b" stroke-width="2.3"/>
<line x1="1957.1" y1="2333.6" x2="2030.2" y2="2333.6" stroke="#1a181b" stroke-width="2.3"/>
<text x="1646.5" y="2371" font-size="32.5" font-style="italic" stroke-width="0.8">PARP1<tspan dy="-11" font-size="27">KO</tspan></text>
<text x="1891.5" y="2371" font-size="32.5" font-style="italic" stroke-width="0.8" xml:space="preserve">PARP1<tspan dy="-11" font-size="27">KO</tspan><tspan dy="11"> HPF1</tspan><tspan dy="-11" font-size="27">KO</tspan></text>
</svg>
</body></html>
